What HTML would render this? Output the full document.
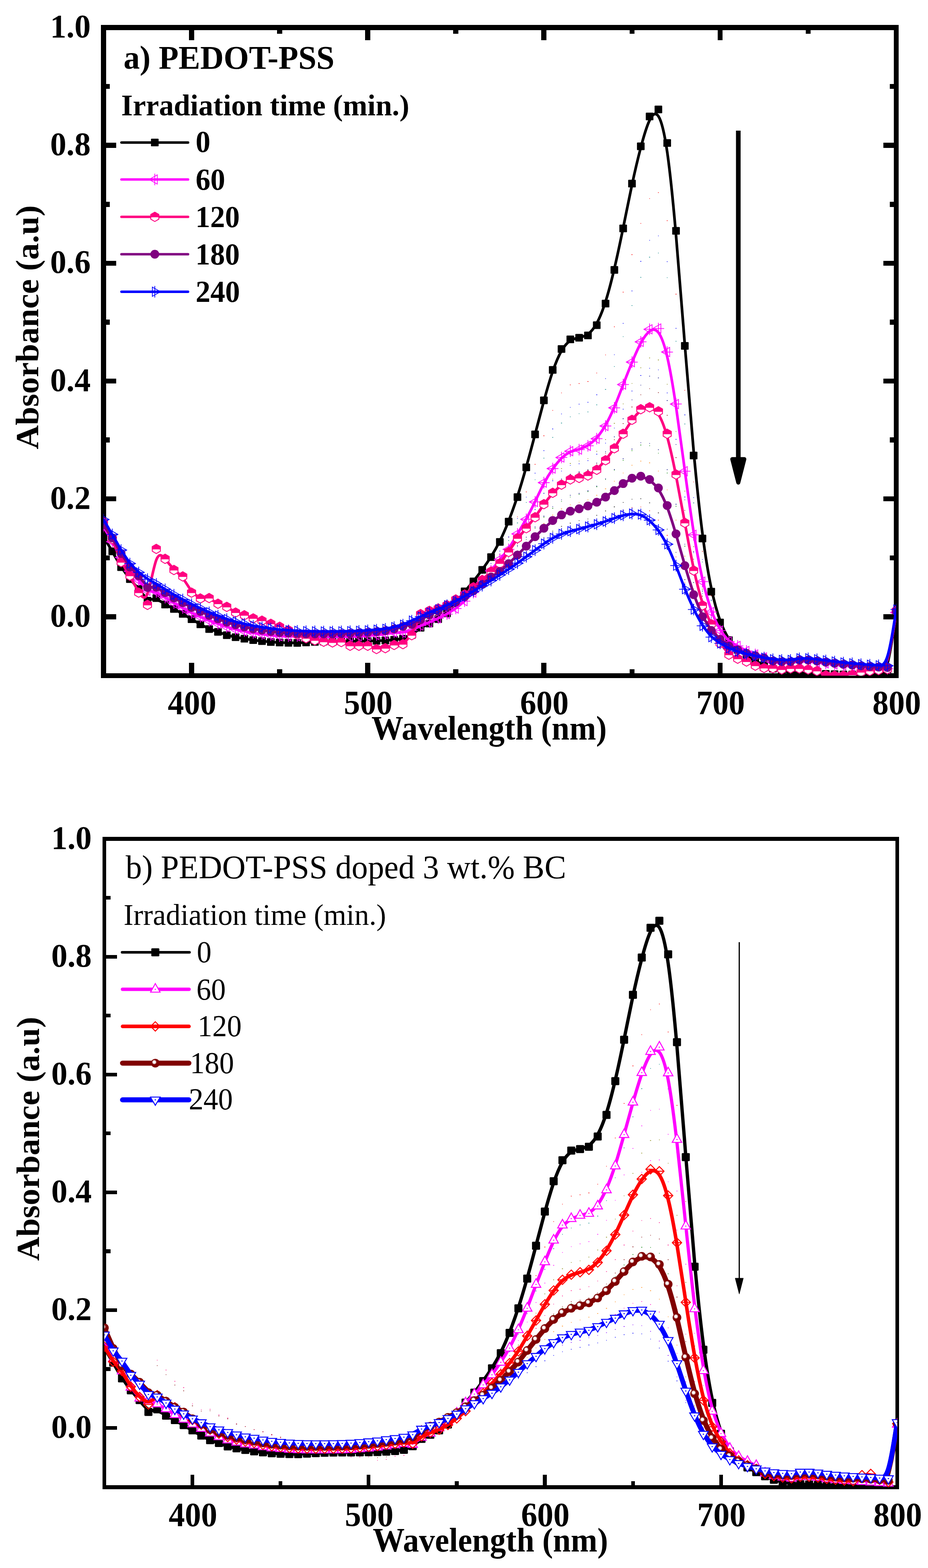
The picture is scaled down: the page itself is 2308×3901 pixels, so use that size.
<!DOCTYPE html>
<html><head><meta charset="utf-8"><title>UV-Vis absorbance spectra</title>
<style>html,body{margin:0;padding:0;background:#fff}svg{display:block}text{font-family:'Liberation Serif', 'Times New Roman', Times, serif;fill:#000}</style>
</head><body>
<svg width="2308" height="3901" viewBox="0 0 2308 3901">
<rect width="2308" height="3901" fill="#fff"/>
<defs>
<radialGradient id="sph" cx="0.5" cy="0.5" r="0.5"><stop offset="0" stop-color="#fff"/><stop offset="0.45" stop-color="#fff"/><stop offset="0.75" stop-color="#d9b3b3"/><stop offset="1" stop-color="#a04040"/></radialGradient>
<rect id="a0" x="-9.5" y="-9.5" width="19" height="19" rx="1.5" fill="#000"/>
<g id="a1" fill="none" stroke="#f0f" stroke-width="1.8"><path d="M-14.1 0L6.15 -11.5V11.5Z"/><path d="M0 -14.4V14.4M-14.3 0H14.3"/></g>
<g id="a2"><path d="M0 -11.6L10 -5.8V5.8L0 11.6L-10 5.8V-5.8Z" fill="#fff" stroke="#ff0080" stroke-width="2.2"/><path d="M0 -11.6L10 -5.8V0H-10V-5.8Z" fill="#ff0080" stroke="#ff0080" stroke-width="2.2"/></g>
<circle id="a3" r="11" fill="#800080"/>
<g id="a4" fill="none" stroke="#00f" stroke-width="1.8"><path d="M14.1 0L-6.15 -11.5V11.5Z"/><path d="M0 -14.4V14.4M-14.3 0H14.3"/></g>
<rect id="b0" x="-10" y="-10" width="20" height="20" rx="2" fill="#000"/>
<g id="b1"><path d="M0 -14.3L11.8 7.1H-11.8Z" fill="#fff" stroke="#f0f" stroke-width="2.4"/><rect x="-1.5" y="-1.2" width="3" height="2.4" fill="#f0f"/></g>
<g id="b2" fill="none" stroke="#f00" stroke-width="2.4"><path d="M0 -11.6L11.6 0L0 11.6L-11.6 0Z"/><path d="M-11.6 0H11.6"/></g>
<g id="b3"><circle r="10.8" fill="#800000"/><circle cx="-2.6" cy="-2.6" r="5.6" fill="url(#sph)"/></g>
<g id="b4"><path d="M0 13.6L12.2 -7H-12.2Z" fill="#fff" stroke="#00f" stroke-width="2.3"/><rect x="-1.6" y="-1.2" width="3.2" height="2.4" fill="#00f"/></g>
</defs>
<clipPath id="clipA"><rect x="257.3" y="68.5" width="1971.7" height="1612.5"/></clipPath>
<clipPath id="clipB"><rect x="259.6" y="2087" width="1971.8" height="1613"/></clipPath>
<path d="M257.3 1681v-15.7M257.3 68.5v15.7M476.38 1681v-31.7M476.38 68.5v31.7M695.46 1681v-15.7M695.46 68.5v15.7M914.53 1681v-31.7M914.53 68.5v31.7M1133.61 1681v-15.7M1133.61 68.5v15.7M1352.69 1681v-31.7M1352.69 68.5v31.7M1571.77 1681v-15.7M1571.77 68.5v15.7M1790.84 1681v-31.7M1790.84 68.5v31.7M2009.92 1681v-15.7M2009.92 68.5v15.7M2229 1681v-31.7M2229 68.5v31.7M257.3 1681h15.7M2229 1681h-15.7M257.3 1534.41h31.7M2229 1534.41h-31.7M257.3 1387.82h15.7M2229 1387.82h-15.7M257.3 1241.23h31.7M2229 1241.23h-31.7M257.3 1094.64h15.7M2229 1094.64h-15.7M257.3 948.05h31.7M2229 948.05h-31.7M257.3 801.45h15.7M2229 801.45h-15.7M257.3 654.86h31.7M2229 654.86h-31.7M257.3 508.27h15.7M2229 508.27h-15.7M257.3 361.68h31.7M2229 361.68h-31.7M257.3 215.09h15.7M2229 215.09h-15.7M257.3 68.5h31.7M2229 68.5h-31.7" fill="none" stroke="#000" stroke-width="12.5" shape-rendering="crispEdges"/>
<rect x="257.3" y="68.5" width="1971.7" height="1612.5" fill="none" stroke="#000" stroke-width="12.5" shape-rendering="crispEdges"/>
<g clip-path="url(#clipA)" fill="none">
<path d="M1176.73 1460.88h1.4M1198.33 1436.98h2M1220.14 1410.27h2.2M1241.85 1378.77h2.6M1264.26 1336.49h1.6M1286.27 1285.63h1.4M1307.87 1223.74h2M1329.68 1155.24h2.2M1351.39 1084.28h2.6M1373.8 1021.05h1.6M1395.8 977.42h1.4M1417.41 957.44h2M1439.22 954.13h2.2M1460.93 949.36h2.6M1483.34 928.03h1.6M1505.34 883.06h1.4M1526.95 812.96h2M1548.76 726.8h2.2M1570.47 633.42h2.6M1592.87 555.85h1.6M1614.88 493.96h1.4M1636.49 479.25h2M1658.3 549.11h2.2M1680.01 731.71h2.6M1702.41 970.92h1.6M1724.42 1198.99h1.4M1746.03 1371.66h2M1767.84 1482.2h2.2M1789.54 1546.42h2.6" stroke="#f00" stroke-width="1.5"/>
<path d="M1176.63 1450.12h1.6M1198.63 1427.25h1.4M1220.24 1402.04h2M1242.05 1371.11h2.2M1263.76 1335.78h2.6M1286.17 1290.04h1.6M1308.17 1236.68h1.4M1329.78 1177.31h2M1351.59 1121.17h2.2M1373.3 1067.22h2.6M1395.7 1029.7h1.6M1417.71 1013.57h1.4M1439.32 1005.51h2M1461.13 1000.67h2.2M1482.84 982.35h2.6M1505.24 942.04h1.6M1527.25 882.52h1.4M1548.86 804.53h2M1570.67 723.76h2.2M1592.37 650.32h2.6M1614.78 597.69h1.6M1636.79 586.85h1.4M1658.4 651.05h2M1680.21 816.7h2.2M1701.91 1032.19h2.6M1724.32 1238h1.6M1746.33 1391.92h1.4M1767.94 1492.92h2M1789.74 1548.48h2.2" stroke="#00f" stroke-width="1.5"/>
<path d="M1176.13 1453.91h2.6M1198.53 1432.07h1.6M1220.54 1407.99h1.4M1242.15 1378.46h2M1263.96 1344.72h2.2M1285.67 1301.04h2.6M1308.07 1250.08h1.6M1330.08 1193.38h1.4M1351.69 1139.77h2M1373.5 1088.25h2.2M1395.2 1052.41h2.6M1417.61 1037.01h1.6M1439.62 1029.31h1.4M1461.23 1024.69h2M1483.04 1007.19h2.2M1504.74 968.69h2.6M1527.15 911.85h1.6M1549.16 837.38h1.4M1570.77 760.24h2M1592.57 690.1h2.2M1614.28 639.85h2.6M1636.69 629.49h1.6M1658.7 690.8h1.4M1680.31 849h2M1702.11 1054.79h2.2M1723.82 1251.34h2.6M1746.23 1398.33h1.6M1768.24 1494.79h1.4M1789.84 1547.85h2" stroke="#008080" stroke-width="1.5"/>
<path d="M1176.33 1471.37h2.2M1198.03 1447.92h2.6M1220.44 1422.71h1.6M1242.45 1400.42h1.4M1264.06 1373.01h2M1285.87 1343.84h2.2M1307.57 1305.43h2.6M1329.98 1267.03h1.6M1351.99 1226.71h1.4M1373.6 1192.27h2M1395.4 1165.73h2.2M1417.11 1152.98h2.6M1439.52 1146.97h1.6M1461.53 1140.96h1.4M1483.14 1122.78h2M1504.94 1093.46h2.2M1526.65 1053.15h2.6M1549.06 1004.63h1.6M1571.07 954.06h1.4M1592.67 914.92h2M1614.48 890.58h2.2M1636.19 895.57h2.6M1658.6 956.11h1.6M1680.61 1073.38h1.4M1702.21 1221.73h2M1724.02 1359.97h2.2M1745.73 1465.66h2.6M1768.14 1531.33h1.6M1790.14 1568.86h1.4" stroke="#808000" stroke-width="1.5"/>
<path d="M1176.43 1475.79h2M1198.23 1453.97h2.2M1219.94 1430.53h2.6M1242.35 1409.8h1.6M1264.36 1384.31h1.4M1285.97 1357.18h2M1307.77 1321.46h2.2M1329.48 1285.74h2.6M1351.89 1248.25h1.6M1373.9 1216.22h1.4M1395.5 1191.54h2M1417.31 1179.68h2.2M1439.02 1174.09h2.6M1461.43 1168.5h1.6M1483.44 1151.6h1.4M1505.04 1124.33h2M1526.85 1086.84h2.2M1548.56 1041.71h2.6M1570.97 994.68h1.6M1592.97 958.28h1.4M1614.58 935.65h2M1636.39 940.28h2.2M1658.1 996.59h2.6M1680.51 1105.65h1.6M1702.51 1243.62h1.4M1724.12 1372.18h2M1745.93 1470.47h2.2M1767.64 1531.55h2.6M1790.04 1566.45h1.6" stroke="#000080" stroke-width="1.5"/>
<path d="M1176.73 1469.58h1.4M1198.33 1449.61h2M1220.14 1427.17h2.2M1241.85 1405.86h2.6M1264.26 1380.55h1.6M1286.27 1353.08h1.4M1307.87 1318.11h2M1329.68 1283.55h2.2M1351.39 1247.85h2.6M1373.8 1217.51h1.6M1395.8 1194.36h1.4M1417.41 1182.22h2M1439.22 1176.06h2.2M1460.93 1169.74h2.6M1483.34 1153.67h1.6M1505.34 1128.25h1.4M1526.95 1093.99h2M1548.76 1053.83h2.2M1570.47 1012.6h2.6M1592.87 982.23h1.6M1614.88 966.98h1.4M1636.49 976.73h2M1658.3 1033.32h2.2M1680.01 1138.54h2.6M1702.41 1269.65h1.6M1724.42 1391.16h1.4M1746.03 1483.2h2M1767.84 1541.34h2.2M1789.54 1575.32h2.6" stroke="#800000" stroke-width="1.5"/>
<path d="M1176.63 1466.24h1.6M1198.63 1452.76h1.4M1220.24 1435.46h2M1242.05 1415.96h2.2M1263.76 1394.56h2.6M1286.17 1370.23h1.6M1308.17 1341.64h1.4M1329.78 1314.23h2M1351.59 1287.11h2.2M1373.3 1264.39h2.6M1395.7 1247.53h1.6M1417.71 1236.54h1.4M1439.32 1230.09h2M1461.13 1223.2h2.2M1482.84 1211.03h2.6M1505.24 1192.85h1.6M1527.25 1169.84h1.4M1548.86 1145.21h2M1570.67 1121.32h2.2M1592.37 1107.24h2.6M1614.78 1108.86h1.6M1636.79 1127.47h1.4M1658.4 1176.73h2M1680.21 1259.55h2.2M1701.91 1358.65h2.6M1724.32 1449.09h1.6M1746.33 1515.79h1.4M1767.94 1559.92h2M1789.74 1587.33h2.2" stroke="#008000" stroke-width="1.5"/>
<path d="M1176.13 1468.44h2.6M1198.53 1455.26h1.6M1220.54 1439.2h1.4M1242.15 1420.76h2M1263.96 1400.63h2.2M1285.67 1377.84h2.6M1308.07 1351.4h1.6M1330.08 1326.76h1.4M1351.69 1302.06h2M1373.5 1281.54h2.2M1395.2 1266.13h2.6M1417.61 1256.02h1.6M1439.62 1249.66h1.4M1461.23 1243.65h2M1483.04 1232.31h2.2M1504.74 1216.34h2.6M1527.15 1197.19h1.6M1549.16 1176.65h1.4M1570.77 1157.51h2M1592.57 1147.31h2.2M1614.28 1151.47h2.6M1636.69 1172.02h1.6M1658.7 1218.64h1.4M1680.31 1293.94h2M1702.11 1383.76h2.2M1723.82 1465.58h2.6M1746.23 1526.04h1.6M1768.24 1566.2h1.4M1789.84 1591.02h2" stroke="#ff8000" stroke-width="1.5"/>
<path d="M1176.33 1473.57h2.2M1198.03 1461.11h2.6M1220.44 1447.92h1.6M1242.45 1431.94h1.4M1264.06 1414.79h2M1285.87 1395.59h2.2M1307.57 1374.19h2.6M1329.98 1356.01h1.6M1351.99 1336.95h1.4M1373.6 1321.56h2M1395.4 1309.54h2.2M1417.11 1301.48h2.6M1439.52 1295.32h1.6M1461.53 1291.36h1.4M1483.14 1281.98h2M1504.94 1271.13h2.2M1526.65 1261.02h2.6M1549.06 1250.02h1.6M1571.07 1241.96h1.4M1592.67 1240.79h2M1614.48 1250.9h2.2M1636.19 1275.97h2.6M1658.6 1316.43h1.6M1680.61 1374.19h1.4M1702.21 1442.35h2M1724.02 1504.06h2.2M1745.73 1549.95h2.6M1768.14 1580.88h1.6M1790.14 1599.64h1.4" stroke="#000" stroke-width="1.5"/>
<path d="M1176.43 1477.83h2M1198.23 1466.24h2.2M1219.94 1453.97h2.6M1242.35 1439.11h1.6M1264.36 1423.16h1.4M1285.97 1405.31h2M1307.77 1385.4h2.2M1329.48 1368.5h2.6M1351.89 1350.77h1.6M1373.9 1336.46h1.4M1395.5 1325.28h2M1417.31 1317.78h2.2M1439.02 1312.06h2.6M1461.43 1308.37h1.6M1483.44 1299.65h1.4M1505.04 1289.56h2M1526.85 1280.15h2.2M1548.56 1269.93h2.6M1570.97 1262.43h1.6M1592.97 1261.34h1.4M1614.58 1270.75h2M1636.39 1294.06h2.2M1658.1 1331.69h2.6M1680.51 1385.4h1.6M1702.51 1448.79h1.4M1724.12 1506.19h2M1745.93 1548.86h2.2M1767.64 1577.63h2.6M1790.04 1595.08h1.6" stroke="#f00" stroke-width="1.5"/>
<path d="M1176.73 1465.51h1.4M1198.33 1448.36h2M1220.14 1428.86h2.2M1241.85 1411.57h2.6M1264.26 1387.89h1.6M1286.27 1360.11h1.4M1307.87 1336.51h2M1329.68 1311h2.2M1351.39 1284.32h2.6M1373.8 1260.5h1.6M1395.8 1243.5h1.4M1417.41 1232.29h2M1439.22 1227.45h2.2M1460.93 1220.92h2.6M1483.34 1209.2h1.6M1505.34 1190.95h1.4M1526.95 1167.93h2M1548.76 1141.18h2.2M1570.47 1117.14h2.6M1592.87 1101.45h1.6M1614.88 1103.14h1.4M1636.49 1118.68h2M1658.3 1168.44h2.2M1680.01 1254.42h2.6M1702.41 1354.03h1.6M1724.42 1449.46h1.4M1746.03 1520.26h2M1767.84 1560.65h2.2M1789.54 1595.46h2.6" stroke="#000080" stroke-width="1.5"/>
<path d="M1176.63 1467.71h1.6M1198.63 1446.16h1.4M1220.24 1421.09h2M1242.05 1396.76h2.2M1263.76 1370.08h2.6M1286.17 1333.8h1.6M1308.17 1303.09h1.4M1329.78 1267.76h2M1351.59 1227.59h2.2M1373.3 1195.93h2.6M1395.7 1172.04h1.6M1417.71 1157.67h1.4M1439.32 1153.86h2M1461.13 1146.09h2.2M1482.84 1130.11h2.6M1505.24 1102.48h1.6M1527.25 1065.02h1.4M1548.86 1017.97h2M1570.67 972.67h2.2M1592.37 934.27h2.6M1614.78 916.24h1.6M1636.79 920.34h1.4M1658.4 977.51h2M1680.21 1092.88h2.2M1701.91 1236.61h2.6M1724.32 1374.92h1.6M1746.33 1476.65h1.4M1767.94 1537.71h2M1789.74 1584.62h2.2" stroke="#00f" stroke-width="1.5"/>
</g>
<g clip-path="url(#clipA)">
<path d="M257.3 1335.05C257.3 1335.05 257.3 1335.05 260.95 1341.15C264.6 1347.26 271.91 1359.48 279.21 1372.13C286.51 1384.79 293.81 1397.88 301.12 1409.39C308.42 1420.9 315.72 1430.82 323.02 1439.81C330.33 1448.8 337.63 1456.86 344.93 1465.83C352.23 1474.8 359.54 1484.67 366.84 1488.53C374.14 1492.39 381.44 1490.24 388.75 1491.8C396.05 1493.36 403.35 1498.64 410.65 1503.11C417.96 1507.58 425.26 1511.25 432.56 1515.16C439.86 1519.07 447.17 1523.22 454.47 1527.47C461.77 1531.72 469.08 1536.07 476.38 1540.39C483.68 1544.72 490.98 1549.02 498.29 1553.1C505.59 1557.18 512.89 1561.04 520.19 1564.14C527.5 1567.25 534.8 1569.59 542.1 1572.16C549.4 1574.72 556.71 1577.51 564.01 1579.71C571.31 1581.9 578.61 1583.52 585.92 1584.98C593.22 1586.45 600.52 1587.77 607.82 1588.99C615.13 1590.21 622.43 1591.34 629.73 1592.31C637.03 1593.29 644.34 1594.12 651.64 1594.93C658.94 1595.73 666.25 1596.51 673.55 1597.13C680.85 1597.74 688.15 1598.18 695.46 1598.49C702.76 1598.81 710.06 1599.01 717.36 1599.15C724.67 1599.3 731.97 1599.4 739.27 1599.25C746.57 1599.1 753.88 1598.71 761.18 1598.3C768.48 1597.88 775.78 1597.44 783.09 1597.08C790.39 1596.71 797.69 1596.42 804.99 1596.2C812.3 1595.98 819.6 1595.83 826.9 1595.71C834.2 1595.59 841.51 1595.49 848.81 1595.42C856.11 1595.34 863.42 1595.29 870.72 1595.24C878.02 1595.2 885.32 1595.15 892.63 1595.07C899.93 1595 907.23 1594.9 914.53 1594.76C921.84 1594.61 929.14 1594.41 936.44 1594.17C943.74 1593.92 951.05 1593.63 958.35 1593.24C965.65 1592.85 972.95 1592.36 980.26 1591.63C987.56 1590.9 994.86 1589.92 1002.16 1587.91C1009.47 1585.91 1016.77 1582.88 1024.07 1578.34C1031.37 1573.79 1038.68 1567.73 1045.98 1562.97C1053.28 1558.21 1060.59 1554.74 1067.89 1551.17C1075.19 1547.6 1082.49 1543.94 1089.8 1539.71C1097.1 1535.48 1104.4 1530.7 1111.7 1524.1C1119.01 1517.5 1126.31 1509.1 1133.61 1500.01C1140.91 1490.92 1148.22 1481.15 1155.52 1472.11C1162.82 1463.07 1170.12 1454.76 1177.43 1445.84C1184.73 1436.93 1192.03 1427.4 1199.33 1417.31C1206.64 1407.22 1213.94 1396.56 1221.24 1384.96C1228.54 1373.35 1235.85 1360.8 1243.15 1346.09C1250.45 1331.38 1257.76 1314.52 1265.06 1295.95C1272.36 1277.39 1279.66 1257.11 1286.97 1234.63C1294.27 1212.15 1301.57 1187.48 1308.87 1161.48C1316.18 1135.49 1323.48 1108.17 1330.78 1080.37C1338.08 1052.56 1345.39 1024.27 1352.69 997.52C1359.99 970.77 1367.29 945.55 1374.6 924.25C1381.9 902.94 1389.2 885.55 1396.5 872.87C1403.81 860.19 1411.11 852.22 1418.41 847.58C1425.71 842.94 1433.02 841.62 1440.32 840.01C1447.62 838.4 1454.93 836.49 1462.23 831.29C1469.53 826.08 1476.83 817.58 1484.14 804.36C1491.44 791.14 1498.74 773.21 1506.04 750.27C1513.35 727.33 1520.65 699.38 1527.95 668.23C1535.25 637.08 1542.56 602.73 1549.86 566.93C1557.16 531.14 1564.46 493.91 1571.77 459.82C1579.07 425.74 1586.37 394.81 1593.67 367.01C1600.98 339.2 1608.28 314.53 1615.58 299.26C1622.88 283.99 1630.19 278.12 1637.49 289.12C1644.79 300.11 1652.1 327.97 1659.4 378.3C1666.7 428.62 1674 501.43 1681.31 585.53C1688.61 669.62 1695.91 765 1703.21 858.16C1710.52 951.32 1717.82 1042.25 1725.12 1122.15C1732.42 1202.04 1739.73 1270.89 1747.03 1327.35C1754.33 1383.81 1761.63 1427.89 1768.94 1462.73C1776.24 1497.57 1783.54 1523.17 1790.84 1543.28C1798.15 1563.39 1805.45 1578 1812.75 1589.28C1820.05 1600.57 1827.36 1608.54 1834.66 1615.21C1841.96 1621.88 1849.27 1627.25 1856.57 1631.89C1863.87 1636.53 1871.17 1640.44 1878.48 1644.11C1885.78 1647.77 1893.08 1651.19 1900.38 1654.37C1907.69 1657.55 1914.99 1660.48 1922.29 1662.92C1929.59 1665.36 1936.9 1667.32 1944.2 1668.91C1951.5 1670.49 1958.8 1671.72 1966.11 1672.57C1973.41 1673.43 1980.71 1673.91 1988.01 1674.28C1995.32 1674.65 2002.62 1674.89 2009.92 1675.14C2017.22 1675.38 2024.53 1675.62 2031.83 1675.87C2039.13 1676.11 2046.44 1676.36 2053.74 1676.6C2061.04 1676.85 2068.34 1677.09 2075.65 1677.34C2082.95 1677.58 2090.25 1677.82 2097.55 1677.95C2104.86 1678.07 2112.16 1678.07 2119.46 1677.95C2126.76 1677.82 2134.07 1677.58 2141.37 1677.34C2148.67 1677.09 2155.97 1676.85 2163.28 1676.72C2170.58 1676.6 2177.88 1676.6 2185.18 1676.6C2192.49 1676.6 2199.79 1676.6 2207.09 1650.95C2214.39 1625.3 2221.7 1573.99 2225.35 1548.34C2229 1522.68 2229 1522.68 2229 1522.68" fill="none" stroke="#000" stroke-width="6.7" stroke-linejoin="round" stroke-linecap="round"/>
<use href="#a0" x="257.3" y="1335.05"/><use href="#a0" x="279.21" y="1371.69"/><use href="#a0" x="301.12" y="1410.98"/><use href="#a0" x="323.02" y="1440.74"/><use href="#a0" x="344.93" y="1464.92"/><use href="#a0" x="366.84" y="1494.54"/><use href="#a0" x="388.75" y="1488.09"/><use href="#a0" x="410.65" y="1503.92"/><use href="#a0" x="432.56" y="1514.91"/><use href="#a0" x="454.47" y="1527.37"/><use href="#a0" x="476.38" y="1540.42"/><use href="#a0" x="498.29" y="1553.32"/><use href="#a0" x="520.19" y="1564.9"/><use href="#a0" x="542.1" y="1571.94"/><use href="#a0" x="564.01" y="1580.29"/><use href="#a0" x="585.92" y="1585.13"/><use href="#a0" x="607.82" y="1589.09"/><use href="#a0" x="629.73" y="1592.46"/><use href="#a0" x="651.64" y="1594.95"/><use href="#a0" x="673.55" y="1597.3"/><use href="#a0" x="695.46" y="1598.62"/><use href="#a0" x="717.36" y="1599.2"/><use href="#a0" x="739.27" y="1599.5"/><use href="#a0" x="761.18" y="1598.32"/><use href="#a0" x="783.09" y="1597"/><use href="#a0" x="804.99" y="1596.12"/><use href="#a0" x="826.9" y="1595.68"/><use href="#a0" x="848.81" y="1595.39"/><use href="#a0" x="870.72" y="1595.24"/><use href="#a0" x="892.63" y="1595.1"/><use href="#a0" x="914.53" y="1594.8"/><use href="#a0" x="936.44" y="1594.22"/><use href="#a0" x="958.35" y="1593.34"/><use href="#a0" x="980.26" y="1591.87"/><use href="#a0" x="1002.16" y="1588.94"/><use href="#a0" x="1024.07" y="1579.85"/><use href="#a0" x="1045.98" y="1561.67"/><use href="#a0" x="1067.89" y="1551.27"/><use href="#a0" x="1089.8" y="1540.27"/><use href="#a0" x="1111.7" y="1525.91"/><use href="#a0" x="1133.61" y="1500.69"/><use href="#a0" x="1155.52" y="1471.37"/><use href="#a0" x="1177.43" y="1446.45"/><use href="#a0" x="1199.33" y="1417.87"/><use href="#a0" x="1221.24" y="1385.91"/><use href="#a0" x="1243.15" y="1348.24"/><use href="#a0" x="1265.06" y="1297.66"/><use href="#a0" x="1286.97" y="1236.83"/><use href="#a0" x="1308.87" y="1162.8"/><use href="#a0" x="1330.78" y="1080.86"/><use href="#a0" x="1352.69" y="995.98"/><use href="#a0" x="1374.6" y="920.34"/><use href="#a0" x="1396.5" y="868.15"/><use href="#a0" x="1418.41" y="844.26"/><use href="#a0" x="1440.32" y="840.3"/><use href="#a0" x="1462.23" y="834.58"/><use href="#a0" x="1484.14" y="809.08"/><use href="#a0" x="1506.04" y="755.28"/><use href="#a0" x="1527.95" y="671.43"/><use href="#a0" x="1549.86" y="568.37"/><use href="#a0" x="1571.77" y="456.67"/><use href="#a0" x="1593.67" y="363.88"/><use href="#a0" x="1615.58" y="289.85"/><use href="#a0" x="1637.49" y="272.26"/><use href="#a0" x="1659.4" y="355.82"/><use href="#a0" x="1681.31" y="574.24"/><use href="#a0" x="1703.21" y="860.38"/><use href="#a0" x="1725.12" y="1133.19"/><use href="#a0" x="1747.03" y="1339.74"/><use href="#a0" x="1768.94" y="1471.96"/><use href="#a0" x="1790.84" y="1548.77"/><use href="#a0" x="1812.75" y="1592.61"/><use href="#a0" x="1834.66" y="1616.5"/><use href="#a0" x="1856.57" y="1632.62"/><use href="#a0" x="1878.48" y="1644.35"/><use href="#a0" x="1900.38" y="1654.61"/><use href="#a0" x="1922.29" y="1663.41"/><use href="#a0" x="1944.2" y="1669.27"/><use href="#a0" x="1966.11" y="1672.94"/><use href="#a0" x="1988.01" y="1674.4"/><use href="#a0" x="2009.92" y="1675.14"/><use href="#a0" x="2031.83" y="1675.87"/><use href="#a0" x="2053.74" y="1676.6"/><use href="#a0" x="2075.65" y="1677.34"/><use href="#a0" x="2097.55" y="1678.07"/><use href="#a0" x="2119.46" y="1678.07"/><use href="#a0" x="2141.37" y="1677.34"/><use href="#a0" x="2163.28" y="1676.6"/><use href="#a0" x="2185.18" y="1676.6"/><use href="#a0" x="2207.09" y="1676.6"/><use href="#a0" x="2229" y="1522.68"/>
</g>
<g clip-path="url(#clipA)">
<path d="M257.3 1310.12C257.3 1310.12 257.3 1310.12 260.95 1316.38C264.6 1322.63 271.91 1335.14 279.21 1347.95C286.51 1360.75 293.81 1373.84 301.12 1386.06C308.42 1398.27 315.72 1409.61 323.02 1419.02C330.33 1428.42 337.63 1435.9 344.93 1444.06C352.23 1452.22 359.54 1461.06 366.84 1465.98C374.14 1470.89 381.44 1471.86 388.75 1474.67C396.05 1477.48 403.35 1482.12 410.65 1486.77C417.96 1491.41 425.26 1496.05 432.56 1500.4C439.86 1504.75 447.17 1508.8 454.47 1512.88C461.77 1516.96 469.08 1521.07 476.38 1524.71C483.68 1528.35 490.98 1531.53 498.29 1534.7C505.59 1537.88 512.89 1541.05 520.19 1543.94C527.5 1546.82 534.8 1549.41 542.1 1552.02C549.4 1554.64 556.71 1557.28 564.01 1559.6C571.31 1561.92 578.61 1563.92 585.92 1565.68C593.22 1567.44 600.52 1568.96 607.82 1570.45C615.13 1571.94 622.43 1573.4 629.73 1574.6C637.03 1575.8 644.34 1576.72 651.64 1577.65C658.94 1578.58 666.25 1579.51 673.55 1580.34C680.85 1581.17 688.15 1581.9 695.46 1582.3C702.76 1582.69 710.06 1582.74 717.36 1582.74C724.67 1582.74 731.97 1582.69 739.27 1582.81C746.57 1582.93 753.88 1583.22 761.18 1583.44C768.48 1583.66 775.78 1583.81 783.09 1583.93C790.39 1584.05 797.69 1584.15 804.99 1584.2C812.3 1584.25 819.6 1584.25 826.9 1584.2C834.2 1584.15 841.51 1584.05 848.81 1583.93C856.11 1583.81 863.42 1583.66 870.72 1583.47C878.02 1583.27 885.32 1583.03 892.63 1582.69C899.93 1582.34 907.23 1581.9 914.53 1581.42C921.84 1580.93 929.14 1580.39 936.44 1579.75C943.74 1579.12 951.05 1578.39 958.35 1577.31C965.65 1576.24 972.95 1574.82 980.26 1574.21C987.56 1573.6 994.86 1573.79 1002.16 1573.04C1009.47 1572.28 1016.77 1570.57 1024.07 1567.61C1031.37 1564.66 1038.68 1560.45 1045.98 1557.01C1053.28 1553.56 1060.59 1550.88 1067.89 1547.85C1075.19 1544.82 1082.49 1541.45 1089.8 1538.05C1097.1 1534.65 1104.4 1531.23 1111.7 1527.2C1119.01 1523.17 1126.31 1518.53 1133.61 1513.15C1140.91 1507.78 1148.22 1501.67 1155.52 1495.07C1162.82 1488.48 1170.12 1481.39 1177.43 1473.7C1184.73 1466 1192.03 1457.69 1199.33 1448.65C1206.64 1439.61 1213.94 1429.84 1221.24 1420.24C1228.54 1410.64 1235.85 1401.21 1243.15 1392.31C1250.45 1383.42 1257.76 1375.06 1265.06 1364.49C1272.36 1353.91 1279.66 1341.1 1286.97 1328.64C1294.27 1316.18 1301.57 1304.07 1308.87 1290.8C1316.18 1277.53 1323.48 1263.12 1330.78 1247.92C1338.08 1232.72 1345.39 1216.75 1352.69 1202.92C1359.99 1189.09 1367.29 1177.41 1374.6 1166.98C1381.9 1156.55 1389.2 1147.36 1396.5 1140.15C1403.81 1132.95 1411.11 1127.72 1418.41 1124.44C1425.71 1121.17 1433.02 1119.85 1440.32 1117.63C1447.62 1115.4 1454.93 1112.28 1462.23 1107.76C1469.53 1103.24 1476.83 1097.32 1484.14 1089.09C1491.44 1080.86 1498.74 1070.3 1506.04 1057.5C1513.35 1044.7 1520.65 1029.65 1527.95 1012.47C1535.25 995.3 1542.56 976 1549.86 957.04C1557.16 938.08 1564.46 919.46 1571.77 901.75C1579.07 884.03 1586.37 867.22 1593.67 853.62C1600.98 840.01 1608.28 829.6 1615.58 824.08C1622.88 818.56 1630.19 817.92 1637.49 827.35C1644.79 836.78 1652.1 856.28 1659.4 887.6C1666.7 918.92 1674 962.07 1681.31 1011.49C1688.61 1060.92 1695.91 1116.62 1703.21 1170.84C1710.52 1225.05 1717.82 1277.78 1725.12 1323.56C1732.42 1369.35 1739.73 1408.19 1747.03 1440.22C1754.33 1472.25 1761.63 1497.47 1768.94 1517.77C1776.24 1538.07 1783.54 1553.47 1790.84 1565.68C1798.15 1577.9 1805.45 1586.94 1812.75 1593.29C1820.05 1599.64 1827.36 1603.31 1834.66 1607.22C1841.96 1611.12 1849.27 1615.28 1856.57 1618.82C1863.87 1622.36 1871.17 1625.3 1878.48 1627.98C1885.78 1630.67 1893.08 1633.11 1900.38 1636.34C1907.69 1639.56 1914.99 1643.57 1922.29 1645.84C1929.59 1648.11 1936.9 1648.65 1944.2 1648.92C1951.5 1649.19 1958.8 1649.19 1966.11 1648.53C1973.41 1647.87 1980.71 1646.55 1988.01 1645.89C1995.32 1645.23 2002.62 1645.23 2009.92 1645.62C2017.22 1646.01 2024.53 1646.8 2031.83 1647.65C2039.13 1648.51 2046.44 1649.43 2053.74 1650.36C2061.04 1651.29 2068.34 1652.22 2075.65 1653.1C2082.95 1653.98 2090.25 1654.81 2097.55 1655.54C2104.86 1656.27 2112.16 1656.91 2119.46 1657.59C2126.76 1658.28 2134.07 1659.01 2141.37 1659.62C2148.67 1660.23 2155.97 1660.72 2163.28 1661.19C2170.58 1661.65 2177.88 1662.09 2185.18 1662.51C2192.49 1662.92 2199.79 1663.31 2207.09 1640.17C2214.39 1617.04 2221.7 1570.37 2225.35 1547.04C2229 1523.71 2229 1523.71 2229 1523.71" fill="none" stroke="#f0f" stroke-width="6.6" stroke-linejoin="round" stroke-linecap="round"/>
<use href="#a1" x="257.3" y="1310.12"/><use href="#a1" x="279.21" y="1347.65"/><use href="#a1" x="301.12" y="1386.94"/><use href="#a1" x="323.02" y="1420.95"/><use href="#a1" x="344.93" y="1443.38"/><use href="#a1" x="366.84" y="1469.91"/><use href="#a1" x="388.75" y="1472.84"/><use href="#a1" x="410.65" y="1486.77"/><use href="#a1" x="432.56" y="1500.69"/><use href="#a1" x="454.47" y="1512.86"/><use href="#a1" x="476.38" y="1525.17"/><use href="#a1" x="498.29" y="1534.7"/><use href="#a1" x="520.19" y="1544.23"/><use href="#a1" x="542.1" y="1552"/><use href="#a1" x="564.01" y="1559.92"/><use href="#a1" x="585.92" y="1565.93"/><use href="#a1" x="607.82" y="1570.47"/><use href="#a1" x="629.73" y="1574.87"/><use href="#a1" x="651.64" y="1577.65"/><use href="#a1" x="673.55" y="1580.44"/><use href="#a1" x="695.46" y="1582.64"/><use href="#a1" x="717.36" y="1582.78"/><use href="#a1" x="739.27" y="1582.64"/><use href="#a1" x="761.18" y="1583.52"/><use href="#a1" x="783.09" y="1583.96"/><use href="#a1" x="804.99" y="1584.25"/><use href="#a1" x="826.9" y="1584.25"/><use href="#a1" x="848.81" y="1583.96"/><use href="#a1" x="870.72" y="1583.52"/><use href="#a1" x="892.63" y="1582.78"/><use href="#a1" x="914.53" y="1581.46"/><use href="#a1" x="936.44" y="1579.85"/><use href="#a1" x="958.35" y="1577.65"/><use href="#a1" x="980.26" y="1573.4"/><use href="#a1" x="1002.16" y="1573.99"/><use href="#a1" x="1024.07" y="1568.86"/><use href="#a1" x="1045.98" y="1556.25"/><use href="#a1" x="1067.89" y="1548.19"/><use href="#a1" x="1089.8" y="1538.07"/><use href="#a1" x="1111.7" y="1527.81"/><use href="#a1" x="1133.61" y="1513.89"/><use href="#a1" x="1155.52" y="1495.56"/><use href="#a1" x="1177.43" y="1474.31"/><use href="#a1" x="1199.33" y="1449.39"/><use href="#a1" x="1221.24" y="1420.07"/><use href="#a1" x="1243.15" y="1391.78"/><use href="#a1" x="1265.06" y="1366.71"/><use href="#a1" x="1286.97" y="1328.3"/><use href="#a1" x="1308.87" y="1291.95"/><use href="#a1" x="1330.78" y="1248.7"/><use href="#a1" x="1352.69" y="1200.77"/><use href="#a1" x="1374.6" y="1165.73"/><use href="#a1" x="1396.5" y="1138.17"/><use href="#a1" x="1418.41" y="1122.49"/><use href="#a1" x="1440.32" y="1118.53"/><use href="#a1" x="1462.23" y="1109.15"/><use href="#a1" x="1484.14" y="1091.41"/><use href="#a1" x="1506.04" y="1059.75"/><use href="#a1" x="1527.95" y="1014.6"/><use href="#a1" x="1549.86" y="956.69"/><use href="#a1" x="1571.77" y="900.84"/><use href="#a1" x="1593.67" y="850.42"/><use href="#a1" x="1615.58" y="819.19"/><use href="#a1" x="1637.49" y="817.29"/><use href="#a1" x="1659.4" y="875.78"/><use href="#a1" x="1681.31" y="1005.22"/><use href="#a1" x="1703.21" y="1172.33"/><use href="#a1" x="1725.12" y="1330.5"/><use href="#a1" x="1747.03" y="1447.04"/><use href="#a1" x="1768.94" y="1522.68"/><use href="#a1" x="1790.84" y="1568.86"/><use href="#a1" x="1812.75" y="1595.98"/><use href="#a1" x="1834.66" y="1606.97"/><use href="#a1" x="1856.57" y="1619.43"/><use href="#a1" x="1878.48" y="1628.23"/><use href="#a1" x="1900.38" y="1635.56"/><use href="#a1" x="1922.29" y="1647.58"/><use href="#a1" x="1944.2" y="1649.19"/><use href="#a1" x="1966.11" y="1649.19"/><use href="#a1" x="1988.01" y="1645.23"/><use href="#a1" x="2009.92" y="1645.23"/><use href="#a1" x="2031.83" y="1647.58"/><use href="#a1" x="2053.74" y="1650.36"/><use href="#a1" x="2075.65" y="1653.15"/><use href="#a1" x="2097.55" y="1655.64"/><use href="#a1" x="2119.46" y="1657.55"/><use href="#a1" x="2141.37" y="1659.74"/><use href="#a1" x="2163.28" y="1661.21"/><use href="#a1" x="2185.18" y="1662.53"/><use href="#a1" x="2207.09" y="1663.7"/><use href="#a1" x="2229" y="1523.71"/>
</g>
<g clip-path="url(#clipA)">
<path d="M257.3 1299.86C257.3 1299.86 257.3 1299.86 260.95 1306.7C264.6 1313.55 271.91 1327.23 279.21 1343.69C286.51 1360.16 293.81 1379.41 301.12 1394.66C308.42 1409.9 315.72 1421.14 323.02 1433.77C330.33 1446.41 337.63 1460.43 344.93 1472.5C352.23 1484.57 359.54 1494.68 366.84 1476.55C374.14 1458.43 381.44 1412.05 388.75 1392.97C396.05 1373.89 403.35 1382.1 410.65 1390.85C417.96 1399.59 425.26 1408.88 432.56 1416.18C439.86 1423.49 447.17 1428.81 454.47 1438.2C461.77 1447.58 469.08 1461.02 476.38 1470.15C483.68 1479.29 490.98 1484.13 498.29 1486.38C505.59 1488.62 512.89 1488.28 520.19 1490.46C527.5 1492.63 534.8 1497.32 542.1 1500.96C549.4 1504.6 556.71 1507.19 564.01 1510.86C571.31 1514.52 578.61 1519.26 585.92 1522.76C593.22 1526.25 600.52 1528.5 607.82 1530.92C615.13 1533.33 622.43 1535.92 629.73 1538.17C637.03 1540.42 644.34 1542.32 651.64 1544.57C658.94 1546.82 666.25 1549.41 673.55 1551.93C680.85 1554.44 688.15 1556.89 695.46 1559.57C702.76 1562.26 710.06 1565.19 717.36 1568.37C724.67 1571.55 731.97 1574.97 739.27 1578.26C746.57 1581.56 753.88 1584.74 761.18 1587.18C768.48 1589.62 775.78 1591.34 783.09 1592.78C790.39 1594.22 797.69 1595.39 804.99 1596.29C812.3 1597.2 819.6 1597.83 826.9 1597.98C834.2 1598.13 841.51 1597.79 848.81 1599.13C856.11 1600.47 863.42 1603.5 870.72 1605.02C878.02 1606.53 885.32 1606.53 892.63 1606.53C899.93 1606.53 907.23 1606.53 914.53 1607.9C921.84 1609.27 929.14 1612 936.44 1613.03C943.74 1614.06 951.05 1613.37 958.35 1611.69C965.65 1610 972.95 1607.31 980.26 1605.63C987.56 1603.94 994.86 1603.26 1002.16 1599.23C1009.47 1595.2 1016.77 1587.82 1024.07 1575.36C1031.37 1562.9 1038.68 1545.35 1045.98 1535.24C1053.28 1525.12 1060.59 1522.44 1067.89 1520.12C1075.19 1517.8 1082.49 1515.84 1089.8 1513.5C1097.1 1511.15 1104.4 1508.41 1111.7 1504.68C1119.01 1500.94 1126.31 1496.2 1133.61 1491.8C1140.91 1487.4 1148.22 1483.35 1155.52 1478.29C1162.82 1473.23 1170.12 1467.17 1177.43 1461.11C1184.73 1455.05 1192.03 1449 1199.33 1442.5C1206.64 1436 1213.94 1429.06 1221.24 1422.19C1228.54 1415.33 1235.85 1408.54 1243.15 1400.42C1250.45 1392.31 1257.76 1382.88 1265.06 1372.47C1272.36 1362.07 1279.66 1350.68 1286.97 1340.81C1294.27 1330.94 1301.57 1322.59 1308.87 1313.84C1316.18 1305.09 1323.48 1295.95 1330.78 1285.99C1338.08 1276.02 1345.39 1265.22 1352.69 1255.1C1359.99 1244.99 1367.29 1235.56 1374.6 1227.47C1381.9 1219.39 1389.2 1212.64 1396.5 1207.1C1403.81 1201.55 1411.11 1197.2 1418.41 1194.42C1425.71 1191.63 1433.02 1190.41 1440.32 1188.77C1447.62 1187.14 1454.93 1185.08 1462.23 1181.69C1469.53 1178.29 1476.83 1173.55 1484.14 1167.25C1491.44 1160.94 1498.74 1153.08 1506.04 1144.18C1513.35 1135.29 1520.65 1125.37 1527.95 1114.38C1535.25 1103.38 1542.56 1091.31 1549.86 1079.49C1557.16 1067.66 1564.46 1056.08 1571.77 1045.89C1579.07 1035.71 1586.37 1026.91 1593.67 1021.71C1600.98 1016.5 1608.28 1014.89 1615.58 1015.77C1622.88 1016.65 1630.19 1020.02 1637.49 1031.02C1644.79 1042.01 1652.1 1060.63 1659.4 1086.82C1666.7 1113.01 1674 1146.77 1681.31 1183.71C1688.61 1220.66 1695.91 1260.77 1703.21 1300.57C1710.52 1340.37 1717.82 1379.85 1725.12 1414.08C1732.42 1448.31 1739.73 1477.29 1747.03 1499.52C1754.33 1521.75 1761.63 1537.24 1768.94 1552.93C1776.24 1568.61 1783.54 1584.49 1790.84 1597.17C1798.15 1609.85 1805.45 1619.33 1812.75 1625.76C1820.05 1632.19 1827.36 1635.56 1834.66 1638.39C1841.96 1641.22 1849.27 1643.52 1856.57 1646.38C1863.87 1649.24 1871.17 1652.66 1878.48 1655.35C1885.78 1658.03 1893.08 1659.99 1900.38 1661.09C1907.69 1662.19 1914.99 1662.43 1922.29 1663.04C1929.59 1663.65 1936.9 1664.63 1944.2 1664.7C1951.5 1664.78 1958.8 1663.95 1966.11 1663.53C1973.41 1663.12 1980.71 1663.12 1988.01 1663.53C1995.32 1663.95 2002.62 1664.78 2009.92 1665.8C2017.22 1666.83 2024.53 1668.05 2031.83 1670.49C2039.13 1672.94 2046.44 1676.6 2053.74 1678.56C2061.04 1680.51 2068.34 1680.76 2075.65 1680.88C2082.95 1681 2090.25 1681 2097.55 1680.63C2104.86 1680.27 2112.16 1679.53 2119.46 1678.07C2126.76 1676.6 2134.07 1674.4 2141.37 1672.82C2148.67 1671.23 2155.97 1670.25 2163.28 1669.39C2170.58 1668.54 2177.88 1667.81 2185.18 1667.07C2192.49 1666.34 2199.79 1665.61 2207.09 1641.05C2214.39 1616.5 2221.7 1568.12 2225.35 1543.94C2229 1519.75 2229 1519.75 2229 1519.75" fill="none" stroke="#ff0080" stroke-width="6.6" stroke-linejoin="round" stroke-linecap="round"/>
<use href="#a2" x="257.3" y="1299.86"/><use href="#a2" x="279.21" y="1340.91"/><use href="#a2" x="301.12" y="1398.67"/><use href="#a2" x="323.02" y="1432.38"/><use href="#a2" x="344.93" y="1474.45"/><use href="#a2" x="366.84" y="1504.8"/><use href="#a2" x="388.75" y="1365.68"/><use href="#a2" x="410.65" y="1390.31"/><use href="#a2" x="432.56" y="1418.16"/><use href="#a2" x="454.47" y="1434.14"/><use href="#a2" x="476.38" y="1474.45"/><use href="#a2" x="498.29" y="1488.97"/><use href="#a2" x="520.19" y="1487.94"/><use href="#a2" x="542.1" y="1502.01"/><use href="#a2" x="564.01" y="1509.78"/><use href="#a2" x="585.92" y="1524"/><use href="#a2" x="607.82" y="1530.74"/><use href="#a2" x="629.73" y="1538.51"/><use href="#a2" x="651.64" y="1544.23"/><use href="#a2" x="673.55" y="1552"/><use href="#a2" x="695.46" y="1559.33"/><use href="#a2" x="717.36" y="1568.12"/><use href="#a2" x="739.27" y="1578.39"/><use href="#a2" x="761.18" y="1587.91"/><use href="#a2" x="783.09" y="1593.05"/><use href="#a2" x="804.99" y="1596.56"/><use href="#a2" x="826.9" y="1598.47"/><use href="#a2" x="848.81" y="1597.44"/><use href="#a2" x="870.72" y="1606.53"/><use href="#a2" x="892.63" y="1606.53"/><use href="#a2" x="914.53" y="1606.53"/><use href="#a2" x="936.44" y="1614.74"/><use href="#a2" x="958.35" y="1612.69"/><use href="#a2" x="980.26" y="1604.63"/><use href="#a2" x="1002.16" y="1602.57"/><use href="#a2" x="1024.07" y="1580.44"/><use href="#a2" x="1045.98" y="1527.81"/><use href="#a2" x="1067.89" y="1519.75"/><use href="#a2" x="1089.8" y="1513.89"/><use href="#a2" x="1111.7" y="1505.68"/><use href="#a2" x="1133.61" y="1491.46"/><use href="#a2" x="1155.52" y="1479.29"/><use href="#a2" x="1177.43" y="1461.11"/><use href="#a2" x="1199.33" y="1442.94"/><use href="#a2" x="1221.24" y="1422.12"/><use href="#a2" x="1243.15" y="1401.74"/><use href="#a2" x="1265.06" y="1373.45"/><use href="#a2" x="1286.97" y="1339.3"/><use href="#a2" x="1308.87" y="1314.23"/><use href="#a2" x="1330.78" y="1286.82"/><use href="#a2" x="1352.69" y="1254.42"/><use href="#a2" x="1374.6" y="1226.13"/><use href="#a2" x="1396.5" y="1205.9"/><use href="#a2" x="1418.41" y="1192.85"/><use href="#a2" x="1440.32" y="1189.19"/><use href="#a2" x="1462.23" y="1183.03"/><use href="#a2" x="1484.14" y="1168.81"/><use href="#a2" x="1506.04" y="1145.21"/><use href="#a2" x="1527.95" y="1115.45"/><use href="#a2" x="1549.86" y="1079.24"/><use href="#a2" x="1571.77" y="1044.5"/><use href="#a2" x="1593.67" y="1018.12"/><use href="#a2" x="1615.58" y="1013.28"/><use href="#a2" x="1637.49" y="1023.39"/><use href="#a2" x="1659.4" y="1079.24"/><use href="#a2" x="1681.31" y="1180.54"/><use href="#a2" x="1703.21" y="1300.89"/><use href="#a2" x="1725.12" y="1419.34"/><use href="#a2" x="1747.03" y="1506.26"/><use href="#a2" x="1768.94" y="1552.73"/><use href="#a2" x="1790.84" y="1600.37"/><use href="#a2" x="1812.75" y="1628.81"/><use href="#a2" x="1834.66" y="1638.93"/><use href="#a2" x="1856.57" y="1645.82"/><use href="#a2" x="1878.48" y="1656.08"/><use href="#a2" x="1900.38" y="1661.94"/><use href="#a2" x="1922.29" y="1662.68"/><use href="#a2" x="1944.2" y="1665.61"/><use href="#a2" x="1966.11" y="1663.12"/><use href="#a2" x="1988.01" y="1663.12"/><use href="#a2" x="2009.92" y="1665.61"/><use href="#a2" x="2031.83" y="1669.27"/><use href="#a2" x="2053.74" y="1680.27"/><use href="#a2" x="2075.65" y="1681"/><use href="#a2" x="2097.55" y="1681"/><use href="#a2" x="2119.46" y="1678.8"/><use href="#a2" x="2141.37" y="1672.2"/><use href="#a2" x="2163.28" y="1669.27"/><use href="#a2" x="2185.18" y="1667.07"/><use href="#a2" x="2207.09" y="1664.87"/><use href="#a2" x="2229" y="1519.75"/>
</g>
<g clip-path="url(#clipA)">
<path d="M257.3 1305.73C257.3 1305.73 257.3 1305.73 260.95 1311.16C264.6 1316.6 271.91 1327.47 279.21 1339.37C286.51 1351.27 293.81 1364.19 301.12 1376.24C308.42 1388.28 315.72 1399.45 323.02 1408.68C330.33 1417.92 337.63 1425.22 344.93 1433.74C352.23 1442.25 359.54 1451.98 366.84 1456.72C374.14 1461.46 381.44 1461.21 388.75 1463.32C396.05 1465.44 403.35 1469.91 410.65 1474.38C417.96 1478.85 425.26 1483.32 432.56 1487.5C439.86 1491.68 447.17 1495.56 454.47 1499.47C461.77 1503.38 469.08 1507.31 476.38 1510.95C483.68 1514.59 490.98 1517.94 498.29 1521.29C505.59 1524.64 512.89 1527.98 520.19 1531.04C527.5 1534.09 534.8 1536.85 542.1 1539.64C549.4 1542.42 556.71 1545.23 564.01 1547.72C571.31 1550.22 578.61 1552.39 585.92 1554.32C593.22 1556.25 600.52 1557.94 607.82 1559.6C615.13 1561.26 622.43 1562.9 629.73 1564.26C637.03 1565.63 644.34 1566.73 651.64 1567.83C658.94 1568.93 666.25 1570.03 673.55 1571.03C680.85 1572.03 688.15 1572.94 695.46 1573.62C702.76 1574.31 710.06 1574.78 717.36 1575.2C724.67 1575.62 731.97 1575.99 739.27 1576.28C746.57 1576.58 753.88 1576.8 761.18 1576.95C768.48 1577.1 775.78 1577.18 783.09 1577.23C790.39 1577.28 797.69 1577.31 804.99 1577.29C812.3 1577.27 819.6 1577.2 826.9 1577.08C834.2 1576.96 841.51 1576.79 848.81 1576.6C856.11 1576.41 863.42 1576.19 870.72 1575.93C878.02 1575.66 885.32 1575.35 892.63 1574.94C899.93 1574.53 907.23 1574.02 914.53 1573.46C921.84 1572.9 929.14 1572.29 936.44 1571.59C943.74 1570.88 951.05 1570.08 958.35 1568.93C965.65 1567.79 972.95 1566.3 980.26 1564.52C987.56 1562.74 994.86 1560.67 1002.16 1558.78C1009.47 1556.89 1016.77 1555.18 1024.07 1552.37C1031.37 1549.56 1038.68 1545.65 1045.98 1541.74C1053.28 1537.83 1060.59 1533.92 1067.89 1530.38C1075.19 1526.84 1082.49 1523.66 1089.8 1520.24C1097.1 1516.82 1104.4 1513.15 1111.7 1509.37C1119.01 1505.58 1126.31 1501.67 1133.61 1497.52C1140.91 1493.36 1148.22 1488.97 1155.52 1484.32C1162.82 1479.68 1170.12 1474.8 1177.43 1469.66C1184.73 1464.53 1192.03 1459.16 1199.33 1453.44C1206.64 1447.72 1213.94 1441.67 1221.24 1436.27C1228.54 1430.87 1235.85 1426.13 1243.15 1420.58C1250.45 1415.04 1257.76 1408.68 1265.06 1401.94C1272.36 1395.2 1279.66 1388.06 1286.97 1380.81C1294.27 1373.55 1301.57 1366.17 1308.87 1358.55C1316.18 1350.93 1323.48 1343.06 1330.78 1335.63C1338.08 1328.2 1345.39 1321.22 1352.69 1314.5C1359.99 1307.78 1367.29 1301.33 1374.6 1295.81C1381.9 1290.29 1389.2 1285.69 1396.5 1281.83C1403.81 1277.97 1411.11 1274.85 1418.41 1272.28C1425.71 1269.71 1433.02 1267.71 1440.32 1265.56C1447.62 1263.41 1454.93 1261.11 1462.23 1258.43C1469.53 1255.74 1476.83 1252.66 1484.14 1248.97C1491.44 1245.28 1498.74 1240.98 1506.04 1236.12C1513.35 1231.26 1520.65 1225.84 1527.95 1220.24C1535.25 1214.65 1542.56 1208.88 1549.86 1203.77C1557.16 1198.67 1564.46 1194.22 1571.77 1191.17C1579.07 1188.11 1586.37 1186.45 1593.67 1186.99C1600.98 1187.53 1608.28 1190.26 1615.58 1195.12C1622.88 1199.99 1630.19 1206.97 1637.49 1217.75C1644.79 1228.52 1652.1 1243.08 1659.4 1262.14C1666.7 1281.2 1674 1304.75 1681.31 1329.67C1688.61 1354.59 1695.91 1380.88 1703.21 1406.09C1710.52 1431.31 1717.82 1455.45 1725.12 1476.63C1732.42 1497.81 1739.73 1516.04 1747.03 1530.87C1754.33 1545.7 1761.63 1557.13 1768.94 1566.51C1776.24 1575.89 1783.54 1583.22 1790.84 1589.62C1798.15 1596.03 1805.45 1601.5 1812.75 1605.87C1820.05 1610.25 1827.36 1613.52 1834.66 1616.57C1841.96 1619.63 1849.27 1622.46 1856.57 1624.86C1863.87 1627.25 1871.17 1629.2 1878.48 1631.16C1885.78 1633.11 1893.08 1635.07 1900.38 1637.32C1907.69 1639.56 1914.99 1642.1 1922.29 1643.64C1929.59 1645.18 1936.9 1645.72 1944.2 1645.99C1951.5 1646.26 1958.8 1646.26 1966.11 1645.6C1973.41 1644.94 1980.71 1643.62 1988.01 1642.96C1995.32 1642.3 2002.62 1642.3 2009.92 1642.69C2017.22 1643.08 2024.53 1643.86 2031.83 1644.72C2039.13 1645.57 2046.44 1646.5 2053.74 1647.43C2061.04 1648.36 2068.34 1649.29 2075.65 1650.17C2082.95 1651.05 2090.25 1651.88 2097.55 1652.61C2104.86 1653.34 2112.16 1653.98 2119.46 1654.66C2126.76 1655.35 2134.07 1656.08 2141.37 1656.69C2148.67 1657.3 2155.97 1657.79 2163.28 1658.25C2170.58 1658.72 2177.88 1659.16 2185.18 1659.57C2192.49 1659.99 2199.79 1660.38 2207.09 1637.24C2214.39 1614.11 2221.7 1567.44 2225.35 1544.11C2229 1520.78 2229 1520.78 2229 1520.78" fill="none" stroke="#800080" stroke-width="6.7" stroke-linejoin="round" stroke-linecap="round"/>
<use href="#a3" x="257.3" y="1305.73"/><use href="#a3" x="279.21" y="1338.34"/><use href="#a3" x="301.12" y="1377.12"/><use href="#a3" x="323.02" y="1410.61"/><use href="#a3" x="344.93" y="1432.53"/><use href="#a3" x="366.84" y="1461.7"/><use href="#a3" x="388.75" y="1460.97"/><use href="#a3" x="410.65" y="1474.38"/><use href="#a3" x="432.56" y="1487.79"/><use href="#a3" x="454.47" y="1499.45"/><use href="#a3" x="476.38" y="1511.25"/><use href="#a3" x="498.29" y="1521.29"/><use href="#a3" x="520.19" y="1531.33"/><use href="#a3" x="542.1" y="1539.61"/><use href="#a3" x="564.01" y="1548.04"/><use href="#a3" x="585.92" y="1554.57"/><use href="#a3" x="607.82" y="1559.62"/><use href="#a3" x="629.73" y="1564.53"/><use href="#a3" x="651.64" y="1567.83"/><use href="#a3" x="673.55" y="1571.13"/><use href="#a3" x="695.46" y="1573.84"/><use href="#a3" x="717.36" y="1575.25"/><use href="#a3" x="739.27" y="1576.36"/><use href="#a3" x="761.18" y="1577.03"/><use href="#a3" x="783.09" y="1577.26"/><use href="#a3" x="804.99" y="1577.34"/><use href="#a3" x="826.9" y="1577.13"/><use href="#a3" x="848.81" y="1576.63"/><use href="#a3" x="870.72" y="1575.98"/><use href="#a3" x="892.63" y="1575.04"/><use href="#a3" x="914.53" y="1573.51"/><use href="#a3" x="936.44" y="1571.69"/><use href="#a3" x="958.35" y="1569.28"/><use href="#a3" x="980.26" y="1564.82"/><use href="#a3" x="1002.16" y="1558.6"/><use href="#a3" x="1024.07" y="1553.47"/><use href="#a3" x="1045.98" y="1541.74"/><use href="#a3" x="1067.89" y="1530.01"/><use href="#a3" x="1089.8" y="1520.48"/><use href="#a3" x="1111.7" y="1509.49"/><use href="#a3" x="1133.61" y="1497.76"/><use href="#a3" x="1155.52" y="1484.57"/><use href="#a3" x="1177.43" y="1469.91"/><use href="#a3" x="1199.33" y="1453.78"/><use href="#a3" x="1221.24" y="1435.61"/><use href="#a3" x="1243.15" y="1421.39"/><use href="#a3" x="1265.06" y="1402.33"/><use href="#a3" x="1286.97" y="1380.93"/><use href="#a3" x="1308.87" y="1358.79"/><use href="#a3" x="1330.78" y="1335.19"/><use href="#a3" x="1352.69" y="1314.23"/><use href="#a3" x="1374.6" y="1294.88"/><use href="#a3" x="1396.5" y="1281.1"/><use href="#a3" x="1418.41" y="1271.72"/><use href="#a3" x="1440.32" y="1265.71"/><use href="#a3" x="1462.23" y="1258.82"/><use href="#a3" x="1484.14" y="1249.58"/><use href="#a3" x="1506.04" y="1236.68"/><use href="#a3" x="1527.95" y="1220.41"/><use href="#a3" x="1549.86" y="1203.11"/><use href="#a3" x="1571.77" y="1189.77"/><use href="#a3" x="1593.67" y="1184.79"/><use href="#a3" x="1615.58" y="1193"/><use href="#a3" x="1637.49" y="1213.96"/><use href="#a3" x="1659.4" y="1257.65"/><use href="#a3" x="1681.31" y="1328.3"/><use href="#a3" x="1703.21" y="1407.17"/><use href="#a3" x="1725.12" y="1479.58"/><use href="#a3" x="1747.03" y="1534.26"/><use href="#a3" x="1768.94" y="1568.56"/><use href="#a3" x="1790.84" y="1590.55"/><use href="#a3" x="1812.75" y="1606.97"/><use href="#a3" x="1834.66" y="1616.79"/><use href="#a3" x="1856.57" y="1625.3"/><use href="#a3" x="1878.48" y="1631.16"/><use href="#a3" x="1900.38" y="1637.02"/><use href="#a3" x="1922.29" y="1644.65"/><use href="#a3" x="1944.2" y="1646.26"/><use href="#a3" x="1966.11" y="1646.26"/><use href="#a3" x="1988.01" y="1642.3"/><use href="#a3" x="2009.92" y="1642.3"/><use href="#a3" x="2031.83" y="1644.65"/><use href="#a3" x="2053.74" y="1647.43"/><use href="#a3" x="2075.65" y="1650.22"/><use href="#a3" x="2097.55" y="1652.71"/><use href="#a3" x="2119.46" y="1654.61"/><use href="#a3" x="2141.37" y="1656.81"/><use href="#a3" x="2163.28" y="1658.28"/><use href="#a3" x="2185.18" y="1659.6"/><use href="#a3" x="2207.09" y="1660.77"/><use href="#a3" x="2229" y="1520.78"/>
</g>
<g clip-path="url(#clipA)">
<path d="M257.3 1292.53C257.3 1292.53 257.3 1292.53 260.95 1298.72C264.6 1304.9 271.91 1317.26 279.21 1329.91C286.51 1342.57 293.81 1355.52 301.12 1367.59C308.42 1379.66 315.72 1390.85 323.02 1400.11C330.33 1409.37 337.63 1416.7 344.93 1423.15C352.23 1429.6 359.54 1435.17 366.84 1439.93C374.14 1444.7 381.44 1448.65 388.75 1452.88C396.05 1457.11 403.35 1461.6 410.65 1466.1C417.96 1470.59 425.26 1475.09 432.56 1479.29C439.86 1483.49 447.17 1487.4 454.47 1491.34C461.77 1495.27 469.08 1499.23 476.38 1502.89C483.68 1506.56 490.98 1509.93 498.29 1513.3C505.59 1516.67 512.89 1520.04 520.19 1523.12C527.5 1526.2 534.8 1528.99 542.1 1531.79C549.4 1534.6 556.71 1537.44 564.01 1539.96C571.31 1542.47 578.61 1544.67 585.92 1546.62C593.22 1548.58 600.52 1550.29 607.82 1551.98C615.13 1553.66 622.43 1555.32 629.73 1556.72C637.03 1558.11 644.34 1559.23 651.64 1560.36C658.94 1561.48 666.25 1562.6 673.55 1563.63C680.85 1564.66 688.15 1565.58 695.46 1566.32C702.76 1567.05 710.06 1567.59 717.36 1568.08C724.67 1568.56 731.97 1569 739.27 1569.37C746.57 1569.74 753.88 1570.03 761.18 1570.25C768.48 1570.47 775.78 1570.62 783.09 1570.74C790.39 1570.86 797.69 1570.96 804.99 1571.01C812.3 1571.06 819.6 1571.06 826.9 1571.01C834.2 1570.96 841.51 1570.86 848.81 1570.74C856.11 1570.62 863.42 1570.47 870.72 1570.27C878.02 1570.08 885.32 1569.84 892.63 1569.49C899.93 1569.15 907.23 1568.71 914.53 1568.22C921.84 1567.73 929.14 1567.2 936.44 1566.56C943.74 1565.93 951.05 1565.19 958.35 1564.12C965.65 1563.04 972.95 1561.63 980.26 1559.92C987.56 1558.21 994.86 1556.2 1002.16 1553.51C1009.47 1550.83 1016.77 1547.46 1024.07 1544.08C1031.37 1540.71 1038.68 1537.34 1045.98 1533.97C1053.28 1530.6 1060.59 1527.23 1067.89 1524.2C1075.19 1521.17 1082.49 1518.48 1089.8 1515.45C1097.1 1512.42 1104.4 1509.05 1111.7 1505.68C1119.01 1502.31 1126.31 1498.93 1133.61 1495.22C1140.91 1491.51 1148.22 1487.45 1155.52 1483.42C1162.82 1479.39 1170.12 1475.38 1177.43 1471.01C1184.73 1466.64 1192.03 1461.9 1199.33 1457.38C1206.64 1452.86 1213.94 1448.56 1221.24 1444.08C1228.54 1439.61 1235.85 1434.97 1243.15 1430.26C1250.45 1425.54 1257.76 1420.75 1265.06 1415.89C1272.36 1411.03 1279.66 1406.09 1286.97 1400.94C1294.27 1395.78 1301.57 1390.41 1308.87 1385.03C1316.18 1379.66 1323.48 1374.28 1330.78 1368.88C1338.08 1363.48 1345.39 1358.06 1352.69 1352.98C1359.99 1347.9 1367.29 1343.16 1374.6 1339.1C1381.9 1335.05 1389.2 1331.67 1396.5 1328.86C1403.81 1326.05 1411.11 1323.81 1418.41 1321.8C1425.71 1319.8 1433.02 1318.04 1440.32 1316.14C1447.62 1314.23 1454.93 1312.18 1462.23 1310.17C1469.53 1308.17 1476.83 1306.22 1484.14 1304.09C1491.44 1301.96 1498.74 1299.67 1506.04 1297.15C1513.35 1294.64 1520.65 1291.9 1527.95 1289.33C1535.25 1286.77 1542.56 1284.37 1549.86 1282.49C1557.16 1280.61 1564.46 1279.24 1571.77 1278.9C1579.07 1278.56 1586.37 1279.24 1593.67 1281.93C1600.98 1284.62 1608.28 1289.31 1615.58 1295.71C1622.88 1302.11 1630.19 1310.22 1637.49 1320.22C1644.79 1330.21 1652.1 1342.08 1659.4 1356.89C1666.7 1371.69 1674 1389.43 1681.31 1408.07C1688.61 1426.71 1695.91 1446.26 1703.21 1464.46C1710.52 1482.66 1717.82 1499.52 1725.12 1514.69C1732.42 1529.86 1739.73 1543.35 1747.03 1554.81C1754.33 1566.27 1761.63 1575.7 1768.94 1583C1776.24 1590.31 1783.54 1595.49 1790.84 1600.08C1798.15 1604.67 1805.45 1608.68 1812.75 1612.05C1820.05 1615.42 1827.36 1618.16 1834.66 1620.53C1841.96 1622.9 1849.27 1624.9 1856.57 1626.71C1863.87 1628.52 1871.17 1630.13 1878.48 1631.7C1885.78 1633.26 1893.08 1634.77 1900.38 1636.19C1907.69 1637.61 1914.99 1638.93 1922.29 1639.86C1929.59 1640.79 1936.9 1641.32 1944.2 1641.59C1951.5 1641.86 1958.8 1641.86 1966.11 1641.2C1973.41 1640.54 1980.71 1639.22 1988.01 1638.56C1995.32 1637.9 2002.62 1637.9 2009.92 1638.29C2017.22 1638.68 2024.53 1639.47 2031.83 1640.32C2039.13 1641.18 2046.44 1642.1 2053.74 1643.03C2061.04 1643.96 2068.34 1644.89 2075.65 1645.77C2082.95 1646.65 2090.25 1647.48 2097.55 1648.21C2104.86 1648.95 2112.16 1649.58 2119.46 1650.26C2126.76 1650.95 2134.07 1651.68 2141.37 1652.29C2148.67 1652.9 2155.97 1653.39 2163.28 1653.86C2170.58 1654.32 2177.88 1654.76 2185.18 1655.18C2192.49 1655.59 2199.79 1655.98 2207.09 1632.84C2214.39 1609.71 2221.7 1563.04 2225.35 1539.71C2229 1516.38 2229 1516.38 2229 1516.38" fill="none" stroke="#00f" stroke-width="6.6" stroke-linejoin="round" stroke-linecap="round"/>
<use href="#a4" x="257.3" y="1292.53"/><use href="#a4" x="279.21" y="1329.62"/><use href="#a4" x="301.12" y="1368.47"/><use href="#a4" x="323.02" y="1402.04"/><use href="#a4" x="344.93" y="1424.03"/><use href="#a4" x="366.84" y="1440.74"/><use href="#a4" x="388.75" y="1452.61"/><use href="#a4" x="410.65" y="1466.1"/><use href="#a4" x="432.56" y="1479.58"/><use href="#a4" x="454.47" y="1491.31"/><use href="#a4" x="476.38" y="1503.19"/><use href="#a4" x="498.29" y="1513.3"/><use href="#a4" x="520.19" y="1523.41"/><use href="#a4" x="542.1" y="1531.77"/><use href="#a4" x="564.01" y="1540.27"/><use href="#a4" x="585.92" y="1546.87"/><use href="#a4" x="607.82" y="1552"/><use href="#a4" x="629.73" y="1556.98"/><use href="#a4" x="651.64" y="1560.36"/><use href="#a4" x="673.55" y="1563.73"/><use href="#a4" x="695.46" y="1566.51"/><use href="#a4" x="717.36" y="1568.12"/><use href="#a4" x="739.27" y="1569.44"/><use href="#a4" x="761.18" y="1570.32"/><use href="#a4" x="783.09" y="1570.76"/><use href="#a4" x="804.99" y="1571.06"/><use href="#a4" x="826.9" y="1571.06"/><use href="#a4" x="848.81" y="1570.76"/><use href="#a4" x="870.72" y="1570.32"/><use href="#a4" x="892.63" y="1569.59"/><use href="#a4" x="914.53" y="1568.27"/><use href="#a4" x="936.44" y="1566.66"/><use href="#a4" x="958.35" y="1564.46"/><use href="#a4" x="980.26" y="1560.21"/><use href="#a4" x="1002.16" y="1554.2"/><use href="#a4" x="1024.07" y="1544.08"/><use href="#a4" x="1045.98" y="1533.97"/><use href="#a4" x="1067.89" y="1523.85"/><use href="#a4" x="1089.8" y="1515.79"/><use href="#a4" x="1111.7" y="1505.68"/><use href="#a4" x="1133.61" y="1495.56"/><use href="#a4" x="1155.52" y="1483.4"/><use href="#a4" x="1177.43" y="1471.37"/><use href="#a4" x="1199.33" y="1457.16"/><use href="#a4" x="1221.24" y="1444.26"/><use href="#a4" x="1243.15" y="1430.33"/><use href="#a4" x="1265.06" y="1415.96"/><use href="#a4" x="1286.97" y="1401.16"/><use href="#a4" x="1308.87" y="1385.03"/><use href="#a4" x="1330.78" y="1368.91"/><use href="#a4" x="1352.69" y="1352.64"/><use href="#a4" x="1374.6" y="1338.42"/><use href="#a4" x="1396.5" y="1328.3"/><use href="#a4" x="1418.41" y="1321.56"/><use href="#a4" x="1440.32" y="1316.28"/><use href="#a4" x="1462.23" y="1310.12"/><use href="#a4" x="1484.14" y="1304.26"/><use href="#a4" x="1506.04" y="1297.37"/><use href="#a4" x="1527.95" y="1289.16"/><use href="#a4" x="1549.86" y="1281.98"/><use href="#a4" x="1571.77" y="1277.87"/><use href="#a4" x="1593.67" y="1279.93"/><use href="#a4" x="1615.58" y="1294"/><use href="#a4" x="1637.49" y="1318.33"/><use href="#a4" x="1659.4" y="1353.96"/><use href="#a4" x="1681.31" y="1407.17"/><use href="#a4" x="1703.21" y="1465.8"/><use href="#a4" x="1725.12" y="1516.38"/><use href="#a4" x="1747.03" y="1556.84"/><use href="#a4" x="1768.94" y="1585.13"/><use href="#a4" x="1790.84" y="1600.67"/><use href="#a4" x="1812.75" y="1612.69"/><use href="#a4" x="1834.66" y="1620.9"/><use href="#a4" x="1856.57" y="1626.91"/><use href="#a4" x="1878.48" y="1631.75"/><use href="#a4" x="1900.38" y="1636.29"/><use href="#a4" x="1922.29" y="1640.25"/><use href="#a4" x="1944.2" y="1641.86"/><use href="#a4" x="1966.11" y="1641.86"/><use href="#a4" x="1988.01" y="1637.9"/><use href="#a4" x="2009.92" y="1637.9"/><use href="#a4" x="2031.83" y="1640.25"/><use href="#a4" x="2053.74" y="1643.03"/><use href="#a4" x="2075.65" y="1645.82"/><use href="#a4" x="2097.55" y="1648.31"/><use href="#a4" x="2119.46" y="1650.22"/><use href="#a4" x="2141.37" y="1652.41"/><use href="#a4" x="2163.28" y="1653.88"/><use href="#a4" x="2185.18" y="1655.2"/><use href="#a4" x="2207.09" y="1656.37"/><use href="#a4" x="2229" y="1516.38"/>
</g>
<text transform="translate(477.58 1777.4) scale(1.0000 1.0400)" font-size="80.5" font-weight="bold" text-anchor="middle">400</text>
<text transform="translate(915.73 1777.4) scale(1.0000 1.0400)" font-size="80.5" font-weight="bold" text-anchor="middle">500</text>
<text transform="translate(1353.89 1777.4) scale(1.0000 1.0400)" font-size="80.5" font-weight="bold" text-anchor="middle">600</text>
<text transform="translate(1792.04 1777.4) scale(1.0000 1.0400)" font-size="80.5" font-weight="bold" text-anchor="middle">700</text>
<text transform="translate(2230.2 1777.4) scale(1.0000 1.0400)" font-size="80.5" font-weight="bold" text-anchor="middle">800</text>
<text transform="translate(225.4 1559.01) scale(1.0000 1.0120)" font-size="80.5" font-weight="bold" text-anchor="end">0.0</text>
<text transform="translate(225.4 1265.83) scale(1.0000 1.0120)" font-size="80.5" font-weight="bold" text-anchor="end">0.2</text>
<text transform="translate(225.4 972.65) scale(1.0000 1.0120)" font-size="80.5" font-weight="bold" text-anchor="end">0.4</text>
<text transform="translate(225.4 679.46) scale(1.0000 1.0120)" font-size="80.5" font-weight="bold" text-anchor="end">0.6</text>
<text transform="translate(225.4 386.28) scale(1.0000 1.0120)" font-size="80.5" font-weight="bold" text-anchor="end">0.8</text>
<text transform="translate(225.4 93.1) scale(1.0000 1.0120)" font-size="80.5" font-weight="bold" text-anchor="end">1.0</text>
<text transform="translate(923.8 1840.2) scale(1.0000 1.0600)" font-size="79.5" font-weight="bold" text-anchor="start">Wavelength (nm)</text>
<text transform="translate(94.7 1117.8) rotate(-90) scale(1.0000 0.9650)" font-size="82.8" font-weight="bold" text-anchor="start">Absorbance (a.u)</text>
<text transform="translate(307.2 170.6) scale(1.0000 1.0200)" font-size="80.8" font-weight="bold" text-anchor="start">a) PEDOT-PSS</text>
<text transform="translate(301.6 286.5) scale(1.0000 1.0200)" font-size="73.5" font-weight="bold" text-anchor="start">Irradiation time (min.)</text>
<text transform="translate(486.4 378.3) scale(1.0000 1.0400)" font-size="73.6" font-weight="bold" text-anchor="start">0</text>
<text transform="translate(486.4 471.7) scale(1.0000 1.0400)" font-size="73.6" font-weight="bold" text-anchor="start">60</text>
<text transform="translate(486 565) scale(1.0000 1.0400)" font-size="73.6" font-weight="bold" text-anchor="start">120</text>
<text transform="translate(486 658) scale(1.0000 1.0400)" font-size="73.6" font-weight="bold" text-anchor="start">180</text>
<text transform="translate(486.4 751.3) scale(1.0000 1.0400)" font-size="73.6" font-weight="bold" text-anchor="start">240</text>
<path d="M302.2 354.6H467.6" stroke="#000" stroke-width="6.4" stroke-linecap="round" fill="none"/>
<use href="#a0" x="385" y="354.6"/>
<path d="M302.1 446.5H467.7" stroke="#f0f" stroke-width="6.2" stroke-linecap="round" fill="none"/>
<use href="#a1" x="385" y="446.5"/>
<path d="M302.1 539.5H467.7" stroke="#ff0080" stroke-width="6.2" stroke-linecap="round" fill="none"/>
<use href="#a2" x="385" y="539.5"/>
<path d="M302.1 632.5H467.7" stroke="#800080" stroke-width="6.2" stroke-linecap="round" fill="none"/>
<use href="#a3" x="385" y="632.5"/>
<path d="M302.1 725.8H467.7" stroke="#00f" stroke-width="6.2" stroke-linecap="round" fill="none"/>
<use href="#a4" x="385" y="725.8"/>
<path d="M1836.2 325V1139.3" stroke="#000" stroke-width="11.5" fill="none"/>
<path d="M1821.2 1142.3H1851.2L1836.2 1200.7Z" fill="#000" stroke="#000" stroke-width="10" stroke-linejoin="round"/>
<path d="M259.6 3700v-15.4M478.69 3700v-31.4M697.78 3700v-15.4M916.87 3700v-31.4M1135.96 3700v-15.4M1355.04 3700v-31.4M1574.13 3700v-15.4M1793.22 3700v-31.4M2012.31 3700v-15.4M2231.4 3700v-31.4M259.6 3699.16h15.4M259.6 3552.6h31.4M259.6 3406.04h15.4M259.6 3259.48h31.4M259.6 3112.92h15.4M259.6 2966.36h31.4M259.6 2819.8h15.4M259.6 2673.24h31.4M259.6 2526.68h15.4M259.6 2380.12h31.4M259.6 2233.56h15.4M259.6 2087h31.4" fill="none" stroke="#000" stroke-width="9.2" shape-rendering="crispEdges"/>
<rect x="259.6" y="2087" width="1971.8" height="1613" fill="none" stroke="#000" stroke-width="9.2" shape-rendering="crispEdges"/>
<g clip-path="url(#clipB)" fill="none">
<path d="M1179.07 3479.09h1.4M1200.68 3455.19h2M1222.49 3428.48h2.2M1244.2 3396.99h2.6M1266.61 3354.72h1.6M1288.62 3303.88h1.4M1310.23 3242h2M1332.04 3173.51h2.2M1353.74 3102.57h2.6M1376.15 3039.35h1.6M1398.16 2995.73h1.4M1419.77 2975.76h2M1441.58 2972.45h2.2M1463.29 2967.67h2.6M1485.7 2946.35h1.6M1507.71 2901.38h1.4M1529.32 2831.3h2M1551.12 2745.17h2.2M1572.83 2651.8h2.6M1595.24 2574.24h1.6M1617.25 2512.37h1.4M1638.86 2497.67h2M1660.67 2567.51h2.2M1682.38 2750.07h2.6M1704.79 2989.23h1.6M1726.8 3217.25h1.4M1748.4 3389.89h2M1770.21 3500.4h2.2M1791.92 3564.61h2.6" stroke="#f00" stroke-width="1.5"/>
<path d="M1178.97 3472.12h1.6M1200.98 3450.29h1.4M1222.59 3426.21h2M1244.4 3396.68h2.2M1266.11 3362.95h2.6M1288.52 3319.28h1.6M1310.53 3268.33h1.4M1332.14 3211.65h2M1353.94 3158.04h2.2M1375.65 3106.53h2.6M1398.06 3070.7h1.6M1420.07 3055.31h1.4M1441.68 3047.61h2M1463.49 3042.99h2.2M1485.2 3025.49h2.6M1507.61 2987h1.6M1529.62 2930.18h1.4M1551.22 2855.72h2M1573.03 2778.59h2.2M1594.74 2708.47h2.6M1617.15 2658.22h1.6M1639.16 2647.87h1.4M1660.77 2709.17h2M1682.58 2867.33h2.2M1704.29 3073.08h2.6M1726.7 3269.59h1.6M1748.7 3416.55h1.4M1770.31 3512.99h2M1792.12 3566.04h2.2" stroke="#008080" stroke-width="1.5"/>
<path d="M1178.47 3492.51h2.6M1200.88 3467.6h1.6M1222.89 3438.28h1.4M1244.5 3410h2M1266.31 3384.94h2.2M1288.02 3346.54h2.6M1310.43 3310.19h1.6M1332.44 3266.95h1.4M1354.04 3219.03h2M1375.85 3184h2.2M1397.56 3156.45h2.6M1419.97 3140.77h1.6M1441.98 3136.81h1.4M1463.59 3127.43h2M1485.4 3109.7h2.2M1507.11 3078.04h2.6M1529.52 3032.9h1.6M1551.52 2975.01h1.4M1573.13 2919.17h2M1594.94 2868.75h2.2M1616.65 2837.53h2.6M1639.06 2835.63h1.6M1661.07 2894.11h1.4M1682.68 3023.52h2M1704.49 3190.6h2.2M1726.2 3348.74h2.6M1748.6 3465.25h1.6M1770.61 3540.88h1.4M1792.22 3587.04h2" stroke="#808000" stroke-width="1.5"/>
<path d="M1178.67 3496.72h2.2M1200.38 3473.55h2.6M1222.79 3446.29h1.6M1244.8 3419.98h1.4M1266.41 3396.67h2M1288.22 3360.96h2.2M1309.93 3327.16h2.6M1332.34 3286.95h1.6M1354.34 3242.38h1.4M1375.95 3209.8h2M1397.76 3184.18h2.2M1419.47 3169.59h2.6M1441.88 3165.91h1.6M1463.89 3157.19h1.4M1485.5 3140.7h2M1507.31 3111.26h2.2M1529.02 3069.28h2.6M1551.42 3015.44h1.6M1573.43 2963.51h1.4M1595.04 2916.62h2M1616.85 2887.59h2.2M1638.56 2885.82h2.6M1660.97 2940.2h1.6M1682.98 3060.55h1.4M1704.59 3215.94h2M1726.4 3363.01h2.2M1748.1 3471.36h2.6M1770.51 3541.7h1.6M1792.52 3584.63h1.4" stroke="#f0f" stroke-width="1.5"/>
<path d="M390.35 3383.91h1.4M411.96 3408.53h2M433.77 3436.38h2.2M455.48 3452.35h2.6M477.89 3492.66h1.6M499.9 3507.17h1.4M521.51 3506.14h2M543.32 3520.21h2.2M565.02 3527.98h2.6M587.43 3542.19h1.6M609.44 3548.94h1.4M631.05 3556.7h2M652.86 3562.42h2.2M674.57 3570.19h2.6M696.98 3577.52h1.6M718.99 3586.31h1.4M740.6 3596.57h2M762.4 3606.09h2.2M784.11 3611.22h2.6M806.52 3614.74h1.6M828.53 3616.65h1.4M850.14 3615.62h2M871.95 3624.71h2.2M893.66 3624.71h2.6M916.07 3624.71h1.6M938.08 3632.91h1.4M959.68 3630.86h2M981.49 3622.8h2.2M1003.2 3620.75h2.6M1025.61 3598.62h1.6M1047.62 3546h1.4M1069.23 3537.94h2M1091.04 3532.08h2.2M1112.75 3523.87h2.6M1135.16 3509.66h1.6M1157.16 3497.49h1.4M1178.77 3479.32h2M1200.58 3461.15h2.2M1222.29 3440.34h2.6M1244.7 3419.96h1.6M1266.71 3391.68h1.4M1288.32 3357.53h2M1310.13 3332.47h2.2M1331.84 3305.06h2.6M1354.24 3272.67h1.6M1376.25 3244.38h1.4M1397.86 3224.16h2M1419.67 3211.12h2.2M1441.38 3207.45h2.6M1463.79 3201.3h1.6M1485.8 3187.08h1.4M1507.41 3163.48h2M1529.22 3133.73h2.2M1550.92 3097.53h2.6M1573.33 3062.8h1.6M1595.34 3036.42h1.4M1616.95 3031.58h2M1638.76 3041.69h2.2M1660.47 3097.53h2.6M1682.88 3198.8h1.6M1704.89 3319.13h1.4M1726.5 3437.55h2M1748.3 3524.46h2.2M1770.01 3570.92h2.6M1792.42 3618.55h1.6" stroke="#ff0080" stroke-width="1.5"/>
<path d="M390.25 3397.4h1.6M412.26 3420.06h1.4M433.87 3445.68h2M455.68 3460.37h2.2M477.39 3497.45h2.6M499.8 3510.8h1.6M521.81 3509.86h1.4M543.42 3522.8h2M565.22 3529.95h2.2M586.93 3543.03h2.6M609.34 3549.23h1.6M631.35 3556.38h1.4M652.96 3561.63h2M674.77 3568.78h2.2M696.48 3575.52h2.6M718.89 3583.61h1.6M740.9 3593.05h1.4M762.5 3601.81h2M784.31 3606.53h2.2M806.02 3609.77h2.6M828.43 3611.52h1.6M850.44 3610.58h1.4M872.05 3618.94h2M893.86 3618.94h2.2M915.57 3618.94h2.6M937.98 3626.49h1.6M959.98 3624.6h1.4M981.59 3617.19h2M1003.4 3615.3h2.2M1025.11 3594.94h2.6M1047.52 3546.53h1.6M1069.53 3539.12h1.4M1091.14 3533.72h2M1112.95 3526.17h2.2M1134.66 3513.09h2.6M1157.06 3501.9h1.6M1179.07 3485.18h1.4M1200.68 3468.46h2M1222.49 3449.32h2.2M1244.2 3430.57h2.6M1266.61 3404.55h1.6M1288.62 3373.13h1.4M1310.23 3350.08h2M1332.04 3324.86h2.2M1353.74 3295.06h2.6M1376.15 3269.04h1.6M1398.16 3250.43h1.4M1419.77 3238.43h2M1441.58 3235.06h2.2M1463.29 3229.4h2.6M1485.7 3216.32h1.6M1507.71 3194.61h1.4M1529.32 3167.24h2M1551.12 3133.94h2.2M1572.83 3101.98h2.6M1595.24 3077.71h1.6M1617.25 3073.26h1.4M1638.86 3082.56h2M1660.67 3133.94h2.2M1682.38 3227.11h2.6M1704.79 3337.81h1.6M1726.8 3446.75h1.4M1748.4 3526.71h2M1770.21 3569.45h2.2M1791.92 3613.28h2.6" stroke="#800000" stroke-width="1.5"/>
<path d="M1178.97 3482.84h1.6M1200.98 3465.48h1.4M1222.59 3445.73h2M1244.4 3427.82h2.2M1266.11 3403.23h2.6M1288.52 3374.18h1.6M1310.53 3350.29h1.4M1332.14 3324.41h2M1353.94 3296.59h2.2M1375.65 3271.88h2.6M1398.06 3254.23h1.6M1420.07 3242.65h1.4M1441.68 3238.05h2M1463.49 3231.6h2.2M1485.2 3219.38h2.6M1507.61 3200.06h1.6M1529.62 3175.71h1.4M1551.22 3147.07h2M1573.03 3120.89h2.2M1594.74 3103.07h2.6M1617.15 3103.45h1.6M1639.16 3117.9h1.4M1660.77 3168.88h2M1682.58 3257.9h2.2M1704.29 3361.63h2.6M1726.7 3461.64h1.6M1748.7 3535.66h1.4M1770.31 3577.25h2M1792.12 3614.62h2.2" stroke="#008000" stroke-width="1.5"/>
<path d="M1178.47 3488.11h2.6M1200.88 3471.99h1.6M1222.89 3453.82h1.4M1244.5 3439.6h2M1266.31 3420.55h2.2M1288.02 3399.15h2.6M1310.43 3377.02h1.6M1332.44 3353.42h1.4M1354.04 3332.47h2M1375.85 3313.12h2.2M1397.56 3299.34h2.6M1419.97 3289.96h1.6M1441.98 3283.96h1.4M1463.59 3277.07h2M1485.4 3267.83h2.2M1507.11 3254.94h2.6M1529.52 3238.67h1.6M1551.52 3221.37h1.4M1573.13 3208.04h2M1594.94 3203.05h2.2M1616.65 3211.26h2.6M1639.06 3232.22h1.6M1661.07 3275.89h1.4M1682.68 3346.54h2M1704.49 3425.39h2.2M1726.2 3497.79h2.6M1748.6 3552.45h1.6M1770.61 3586.75h1.4M1792.22 3608.73h2" stroke="#ff8000" stroke-width="1.5"/>
<path d="M1178.67 3494.56h2.2M1200.38 3480.05h2.6M1222.79 3463.7h1.6M1244.8 3450.9h1.4M1266.41 3433.75h2M1288.22 3414.5h2.2M1309.93 3394.58h2.6M1332.34 3373.34h1.6M1354.34 3354.48h1.4M1375.95 3337.07h2M1397.76 3324.67h2.2M1419.47 3316.23h2.6M1441.88 3310.82h1.6M1463.89 3304.62h1.4M1485.5 3296.31h2M1507.31 3284.7h2.2M1529.02 3270.06h2.6M1551.42 3254.5h1.6M1573.43 3242.49h1.4M1595.04 3238.01h2M1616.85 3245.4h2.2M1638.56 3264.26h2.6M1660.97 3303.57h1.6M1682.98 3367.14h1.4M1704.59 3438.11h2M1726.4 3503.27h2.2M1748.1 3552.47h2.6M1770.51 3583.33h1.6M1792.52 3603.12h1.4" stroke="#ff00c0" stroke-width="1.5"/>
<path d="M1178.77 3489.58h2M1200.58 3475.36h2.2M1222.29 3462.47h2.6M1244.7 3448.54h1.6M1266.71 3434.18h1.4M1288.32 3419.38h2M1310.13 3403.26h2.2M1331.84 3387.13h2.6M1354.24 3370.87h1.6M1376.25 3356.65h1.4M1397.86 3346.54h2M1419.67 3339.79h2.2M1441.38 3334.52h2.6M1463.79 3328.36h1.6M1485.8 3322.5h1.4M1507.41 3315.61h2M1529.22 3307.41h2.2M1550.92 3300.22h2.6M1573.33 3296.12h1.6M1595.34 3298.17h1.4M1616.95 3312.24h2M1638.76 3336.57h2.2M1660.47 3372.18h2.6M1682.88 3425.39h1.6M1704.89 3484.01h1.4M1726.5 3534.57h2M1748.3 3575.02h2.2M1770.01 3603.31h2.6M1792.42 3618.85h1.6" stroke="#8000ff" stroke-width="1.5"/>
<path d="M1179.07 3494.62h1.4M1200.68 3481.54h2M1222.49 3469.68h2.2M1244.2 3456.87h2.6M1266.61 3443.65h1.6M1288.62 3430.03h1.4M1310.23 3415.2h2M1332.04 3400.37h2.2M1353.74 3385.4h2.6M1376.15 3372.33h1.6M1398.16 3363.02h1.4M1419.77 3356.82h2M1441.58 3351.97h2.2M1463.29 3346.3h2.6M1485.7 3340.91h1.6M1507.71 3334.57h1.4M1529.32 3327.02h2M1551.12 3320.41h2.2M1572.83 3316.64h2.6M1595.24 3318.53h1.6M1617.25 3331.47h1.4M1638.86 3353.85h2M1660.67 3386.62h2.2M1682.38 3435.56h2.6M1704.79 3489.5h1.6M1726.8 3536.02h1.4M1748.4 3573.23h2M1770.21 3599.25h2.2M1791.92 3613.55h2.6" stroke="#00f" stroke-width="1.5"/>
<path d="M1178.97 3478.95h1.6M1200.98 3455.8h1.4M1222.59 3430.59h2M1244.4 3403.99h2.2M1266.11 3372.62h2.6M1288.52 3335.18h1.6M1310.53 3289.3h1.4M1332.14 3240.43h2M1353.94 3192.21h2.2M1375.65 3148.02h2.6M1398.06 3116h1.6M1420.07 3101.56h1.4M1441.68 3094.53h2M1463.49 3089.1h2.2M1485.2 3070.86h2.6M1507.61 3036.05h1.6M1529.62 2986.15h1.4M1551.22 2922.9h2M1573.03 2857.25h2.2M1594.74 2800.97h2.6M1617.15 2762.5h1.6M1639.16 2759.56h1.4M1660.77 2821.93h2M1682.58 2963.36h2.2M1704.29 3145.24h2.6M1726.7 3317.22h1.6M1748.7 3447h1.4M1770.31 3530.32h2M1792.12 3576.86h2.2" stroke="#f0f" stroke-width="1.5"/>
</g>
<g clip-path="url(#clipB)">
<path d="M259.6 3353.28C259.6 3353.28 259.6 3353.28 263.25 3359.39C266.9 3365.49 274.21 3377.71 281.51 3390.36C288.81 3403.01 296.11 3416.1 303.42 3427.61C310.72 3439.11 318.02 3449.03 325.33 3458.02C332.63 3467.01 339.93 3475.07 347.24 3484.03C354.54 3493 361.84 3502.87 369.14 3506.73C376.45 3510.59 383.75 3508.44 391.05 3510C398.36 3511.56 405.66 3516.84 412.96 3521.31C420.27 3525.78 427.57 3529.44 434.87 3533.35C442.17 3537.26 449.48 3541.41 456.78 3545.66C464.08 3549.91 471.39 3554.26 478.69 3558.58C485.99 3562.91 493.29 3567.21 500.6 3571.29C507.9 3575.37 515.2 3579.23 522.51 3582.33C529.81 3585.43 537.11 3587.77 544.42 3590.34C551.72 3592.9 559.02 3595.69 566.32 3597.89C573.63 3600.09 580.93 3601.7 588.23 3603.16C595.54 3604.63 602.84 3605.95 610.14 3607.17C617.45 3608.39 624.75 3609.51 632.05 3610.49C639.35 3611.47 646.66 3612.3 653.96 3613.1C661.26 3613.91 668.57 3614.69 675.87 3615.3C683.17 3615.91 690.47 3616.35 697.78 3616.67C705.08 3616.99 712.38 3617.18 719.69 3617.33C726.99 3617.48 734.29 3617.57 741.6 3617.43C748.9 3617.28 756.2 3616.89 763.5 3616.48C770.81 3616.06 778.11 3615.62 785.41 3615.25C792.72 3614.89 800.02 3614.59 807.32 3614.38C814.63 3614.16 821.93 3614.01 829.23 3613.89C836.53 3613.76 843.84 3613.67 851.14 3613.59C858.44 3613.52 865.75 3613.47 873.05 3613.42C880.35 3613.37 887.65 3613.32 894.96 3613.25C902.26 3613.18 909.56 3613.08 916.87 3612.93C924.17 3612.79 931.47 3612.59 938.78 3612.35C946.08 3612.1 953.38 3611.81 960.68 3611.42C967.99 3611.03 975.29 3610.54 982.59 3609.81C989.9 3609.07 997.2 3608.1 1004.5 3606.09C1011.81 3604.09 1019.11 3601.06 1026.41 3596.52C1033.71 3591.98 1041.02 3585.92 1048.32 3581.15C1055.62 3576.39 1062.93 3572.92 1070.23 3569.36C1077.53 3565.79 1084.83 3562.13 1092.14 3557.9C1099.44 3553.67 1106.74 3548.89 1114.05 3542.29C1121.35 3535.7 1128.65 3527.29 1135.96 3518.21C1143.26 3509.12 1150.56 3499.35 1157.86 3490.31C1165.17 3481.27 1172.47 3472.97 1179.77 3464.05C1187.08 3455.14 1194.38 3445.61 1201.68 3435.52C1208.99 3425.43 1216.29 3414.78 1223.59 3403.18C1230.89 3391.58 1238.2 3379.02 1245.5 3364.32C1252.8 3349.61 1260.11 3332.76 1267.41 3314.2C1274.71 3295.63 1282.01 3275.36 1289.32 3252.88C1296.62 3230.41 1303.92 3205.74 1311.23 3179.75C1318.53 3153.76 1325.83 3126.45 1333.14 3098.65C1340.44 3070.86 1347.74 3042.57 1355.04 3015.82C1362.35 2989.08 1369.65 2963.87 1376.95 2942.57C1384.26 2921.27 1391.56 2903.88 1398.86 2891.2C1406.17 2878.52 1413.47 2870.56 1420.77 2865.92C1428.07 2861.28 1435.38 2859.96 1442.68 2858.35C1449.98 2856.73 1457.29 2854.83 1464.59 2849.62C1471.89 2844.42 1479.19 2835.92 1486.5 2822.71C1493.8 2809.49 1501.1 2791.56 1508.41 2768.63C1515.71 2745.69 1523.01 2717.75 1530.32 2686.6C1537.62 2655.46 1544.92 2621.11 1552.22 2585.33C1559.53 2549.54 1566.83 2512.32 1574.13 2478.24C1581.44 2444.17 1588.74 2413.24 1596.04 2385.45C1603.35 2357.65 1610.65 2332.98 1617.95 2317.71C1625.25 2302.44 1632.56 2296.58 1639.86 2307.57C1647.16 2318.56 1654.47 2346.41 1661.77 2396.73C1669.07 2447.05 1676.37 2519.84 1683.68 2603.92C1690.98 2687.99 1698.28 2783.36 1705.59 2876.49C1712.89 2969.63 1720.19 3060.55 1727.5 3140.42C1734.8 3220.3 1742.1 3289.13 1749.4 3345.58C1756.71 3402.03 1764.01 3446.1 1771.31 3480.93C1778.62 3515.76 1785.92 3541.36 1793.22 3561.47C1800.53 3581.57 1807.83 3596.18 1815.13 3607.46C1822.43 3618.75 1829.74 3626.71 1837.04 3633.38C1844.34 3640.05 1851.65 3645.42 1858.95 3650.06C1866.25 3654.7 1873.55 3658.61 1880.86 3662.28C1888.16 3665.94 1895.46 3669.36 1902.77 3672.53C1910.07 3675.71 1917.37 3678.64 1924.68 3681.08C1931.98 3683.53 1939.28 3685.48 1946.58 3687.07C1953.89 3688.66 1961.19 3689.88 1968.49 3690.73C1975.8 3691.59 1983.1 3692.08 1990.4 3692.44C1997.71 3692.81 2005.01 3693.05 2012.31 3693.3C2019.61 3693.54 2026.92 3693.79 2034.22 3694.03C2041.52 3694.27 2048.83 3694.52 2056.13 3694.76C2063.43 3695.01 2070.73 3695.25 2078.04 3695.5C2085.34 3695.74 2092.64 3695.98 2099.95 3696.11C2107.25 3696.23 2114.55 3696.23 2121.86 3696.11C2129.16 3695.98 2136.46 3695.74 2143.76 3695.5C2151.07 3695.25 2158.37 3695.01 2165.67 3694.89C2172.98 3694.76 2180.28 3694.76 2187.58 3694.76C2194.89 3694.76 2202.19 3694.76 2209.49 3669.12C2216.79 3643.47 2224.1 3592.17 2227.75 3566.52C2231.4 3540.88 2231.4 3540.88 2231.4 3540.88" fill="none" stroke="#000" stroke-width="8.3" stroke-linejoin="round" stroke-linecap="round"/>
<use href="#b0" x="259.6" y="3353.28"/><use href="#b0" x="281.51" y="3389.92"/><use href="#b0" x="303.42" y="3429.2"/><use href="#b0" x="325.33" y="3458.95"/><use href="#b0" x="347.24" y="3483.13"/><use href="#b0" x="369.14" y="3512.74"/><use href="#b0" x="391.05" y="3506.29"/><use href="#b0" x="412.96" y="3522.12"/><use href="#b0" x="434.87" y="3533.11"/><use href="#b0" x="456.78" y="3545.57"/><use href="#b0" x="478.69" y="3558.61"/><use href="#b0" x="500.6" y="3571.51"/><use href="#b0" x="522.51" y="3583.08"/><use href="#b0" x="544.42" y="3590.12"/><use href="#b0" x="566.32" y="3598.47"/><use href="#b0" x="588.23" y="3603.31"/><use href="#b0" x="610.14" y="3607.27"/><use href="#b0" x="632.05" y="3610.64"/><use href="#b0" x="653.96" y="3613.13"/><use href="#b0" x="675.87" y="3615.47"/><use href="#b0" x="697.78" y="3616.79"/><use href="#b0" x="719.69" y="3617.38"/><use href="#b0" x="741.6" y="3617.67"/><use href="#b0" x="763.5" y="3616.5"/><use href="#b0" x="785.41" y="3615.18"/><use href="#b0" x="807.32" y="3614.3"/><use href="#b0" x="829.23" y="3613.86"/><use href="#b0" x="851.14" y="3613.57"/><use href="#b0" x="873.05" y="3613.42"/><use href="#b0" x="894.96" y="3613.28"/><use href="#b0" x="916.87" y="3612.98"/><use href="#b0" x="938.78" y="3612.4"/><use href="#b0" x="960.68" y="3611.52"/><use href="#b0" x="982.59" y="3610.05"/><use href="#b0" x="1004.5" y="3607.12"/><use href="#b0" x="1026.41" y="3598.03"/><use href="#b0" x="1048.32" y="3579.86"/><use href="#b0" x="1070.23" y="3569.45"/><use href="#b0" x="1092.14" y="3558.46"/><use href="#b0" x="1114.05" y="3544.1"/><use href="#b0" x="1135.96" y="3518.89"/><use href="#b0" x="1157.86" y="3489.58"/><use href="#b0" x="1179.77" y="3464.66"/><use href="#b0" x="1201.68" y="3436.08"/><use href="#b0" x="1223.59" y="3404.13"/><use href="#b0" x="1245.5" y="3366.47"/><use href="#b0" x="1267.41" y="3315.91"/><use href="#b0" x="1289.32" y="3255.08"/><use href="#b0" x="1311.23" y="3181.07"/><use href="#b0" x="1333.14" y="3099.14"/><use href="#b0" x="1355.04" y="3014.29"/><use href="#b0" x="1376.95" y="2938.66"/><use href="#b0" x="1398.86" y="2886.48"/><use href="#b0" x="1420.77" y="2862.6"/><use href="#b0" x="1442.68" y="2858.64"/><use href="#b0" x="1464.59" y="2852.92"/><use href="#b0" x="1486.5" y="2827.42"/><use href="#b0" x="1508.41" y="2773.63"/><use href="#b0" x="1530.32" y="2689.8"/><use href="#b0" x="1552.22" y="2586.77"/><use href="#b0" x="1574.13" y="2475.09"/><use href="#b0" x="1596.04" y="2382.32"/><use href="#b0" x="1617.95" y="2308.31"/><use href="#b0" x="1639.86" y="2290.72"/><use href="#b0" x="1661.77" y="2374.26"/><use href="#b0" x="1683.68" y="2592.63"/><use href="#b0" x="1705.59" y="2878.72"/><use href="#b0" x="1727.5" y="3151.47"/><use href="#b0" x="1749.4" y="3357.97"/><use href="#b0" x="1771.31" y="3490.17"/><use href="#b0" x="1793.22" y="3566.96"/><use href="#b0" x="1815.13" y="3610.78"/><use href="#b0" x="1837.04" y="3634.67"/><use href="#b0" x="1858.95" y="3650.8"/><use href="#b0" x="1880.86" y="3662.52"/><use href="#b0" x="1902.77" y="3672.78"/><use href="#b0" x="1924.68" y="3681.57"/><use href="#b0" x="1946.58" y="3687.44"/><use href="#b0" x="1968.49" y="3691.1"/><use href="#b0" x="1990.4" y="3692.56"/><use href="#b0" x="2012.31" y="3693.3"/><use href="#b0" x="2034.22" y="3694.03"/><use href="#b0" x="2056.13" y="3694.76"/><use href="#b0" x="2078.04" y="3695.5"/><use href="#b0" x="2099.95" y="3696.23"/><use href="#b0" x="2121.86" y="3696.23"/><use href="#b0" x="2143.76" y="3695.5"/><use href="#b0" x="2165.67" y="3694.76"/><use href="#b0" x="2187.58" y="3694.76"/><use href="#b0" x="2209.49" y="3694.76"/><use href="#b0" x="2231.4" y="3540.88"/>
</g>
<g clip-path="url(#clipB)">
<path d="M259.6 3335.69C259.6 3335.69 259.6 3335.69 263.25 3343.17C266.9 3350.64 274.21 3365.59 281.51 3378.14C288.81 3390.7 296.11 3400.86 303.42 3412.68C310.72 3424.51 318.02 3437.99 325.33 3449.23C332.63 3460.46 339.93 3469.45 347.24 3474.85C354.54 3480.25 361.84 3482.06 369.14 3484.47C376.45 3486.89 383.75 3489.92 391.05 3493.46C398.36 3497 405.66 3501.06 412.96 3505.52C420.27 3509.98 427.57 3514.85 434.87 3519.18C442.17 3523.52 449.48 3527.31 456.78 3531.2C464.08 3535.09 471.39 3539.08 478.69 3542.89C485.99 3546.69 493.29 3550.3 500.6 3554.04C507.9 3557.78 515.2 3561.64 522.51 3565.11C529.81 3568.58 537.11 3571.65 544.42 3574.51C551.72 3577.37 559.02 3580.01 566.32 3582.25C573.63 3584.48 580.93 3586.33 588.23 3587.99C595.54 3589.66 602.84 3591.16 610.14 3592.39C617.45 3593.62 624.75 3594.58 632.05 3595.71C639.35 3596.84 646.66 3598.15 653.96 3599.28C661.26 3600.41 668.57 3601.37 675.87 3602.16C683.17 3602.95 690.47 3603.57 697.78 3604.17C705.08 3604.78 712.38 3605.36 719.69 3605.83C726.99 3606.29 734.29 3606.63 741.6 3606.88C748.9 3607.12 756.2 3607.27 763.5 3607.39C770.81 3607.51 778.11 3607.61 785.41 3607.66C792.72 3607.71 800.02 3607.71 807.32 3607.68C814.63 3607.66 821.93 3607.61 829.23 3607.51C836.53 3607.41 843.84 3607.27 851.14 3607.07C858.44 3606.88 865.75 3606.63 873.05 3606.24C880.35 3605.85 887.65 3605.31 894.96 3604.73C902.26 3604.14 909.56 3603.51 916.87 3602.82C924.17 3602.14 931.47 3601.4 938.78 3600.53C946.08 3599.65 953.38 3598.62 960.68 3597.64C967.99 3596.67 975.29 3595.74 982.59 3594.74C989.9 3593.73 997.2 3592.66 1004.5 3592.46C1011.81 3592.27 1019.11 3592.95 1026.41 3590.36C1033.71 3587.77 1041.02 3581.91 1048.32 3577.27C1055.62 3572.63 1062.93 3569.21 1070.23 3565.3C1077.53 3561.39 1084.83 3557 1092.14 3552.11C1099.44 3547.23 1106.74 3541.85 1114.05 3535.75C1121.35 3529.64 1128.65 3522.8 1135.96 3515.13C1143.26 3507.46 1150.56 3498.96 1157.86 3491.02C1165.17 3483.08 1172.47 3475.7 1179.77 3468.21C1187.08 3460.71 1194.38 3453.09 1201.68 3445.07C1208.99 3437.06 1216.29 3428.66 1223.59 3419.3C1230.89 3409.95 1238.2 3399.64 1245.5 3388.6C1252.8 3377.56 1260.11 3365.78 1267.41 3352.28C1274.71 3338.77 1282.01 3323.53 1289.32 3307.01C1296.62 3290.5 1303.92 3272.72 1311.23 3253.94C1318.53 3235.15 1325.83 3215.37 1333.14 3196.12C1340.44 3176.87 1347.74 3158.16 1355.04 3139.81C1362.35 3121.47 1369.65 3103.49 1376.95 3088.25C1384.26 3073.01 1391.56 3060.5 1398.86 3051.56C1406.17 3042.62 1413.47 3037.25 1420.77 3033.22C1428.07 3029.19 1435.38 3026.5 1442.68 3024.35C1449.98 3022.2 1457.29 3020.59 1464.59 3016.73C1471.89 3012.87 1479.19 3006.76 1486.5 2996.99C1493.8 2987.22 1501.1 2973.79 1508.41 2957.15C1515.71 2940.52 1523.01 2920.68 1530.32 2897.77C1537.62 2874.86 1544.92 2848.87 1552.22 2822.41C1559.53 2795.96 1566.83 2769.04 1574.13 2743.34C1581.44 2717.65 1588.74 2693.17 1596.04 2672.17C1603.35 2651.16 1610.65 2633.62 1617.95 2623.04C1625.25 2612.47 1632.56 2608.85 1639.86 2617.74C1647.16 2626.63 1654.47 2648.03 1661.77 2686.33C1669.07 2724.63 1676.37 2779.84 1683.68 2843.35C1690.98 2906.86 1698.28 2978.67 1705.59 3048.87C1712.89 3119.08 1720.19 3187.67 1727.5 3247.61C1734.8 3307.55 1742.1 3358.85 1749.4 3401.33C1756.71 3443.8 1764.01 3477.46 1771.31 3503.55C1778.62 3529.64 1785.92 3548.15 1793.22 3563.57C1800.53 3578.98 1807.83 3591.29 1815.13 3600.82C1822.43 3610.34 1829.74 3617.09 1837.04 3622.48C1844.34 3627.88 1851.65 3631.94 1858.95 3635.7C1866.25 3639.46 1873.55 3642.93 1880.86 3647.82C1888.16 3652.7 1895.46 3659 1902.77 3663.16C1910.07 3667.32 1917.37 3669.34 1924.68 3671C1931.98 3672.65 1939.28 3673.94 1946.58 3675.05C1953.89 3676.17 1961.19 3677.11 1968.49 3676.9C1975.8 3676.69 1983.1 3675.32 1990.4 3674.64C1997.71 3673.95 2005.01 3673.95 2012.31 3674.29C2019.61 3674.64 2026.92 3675.32 2034.22 3676.2C2041.52 3677.08 2048.83 3678.15 2056.13 3679.08C2063.43 3680.01 2070.73 3680.79 2078.04 3681.48C2085.34 3682.16 2092.64 3682.75 2099.95 3683.28C2107.25 3683.82 2114.55 3684.31 2121.86 3684.77C2129.16 3685.24 2136.46 3685.68 2143.76 3686.12C2151.07 3686.56 2158.37 3687 2165.67 3687.46C2172.98 3687.92 2180.28 3688.41 2187.58 3688.88C2194.89 3689.34 2202.19 3689.78 2209.49 3665.52C2216.79 3641.27 2224.1 3592.32 2227.75 3567.84C2231.4 3543.37 2231.4 3543.37 2231.4 3543.37" fill="none" stroke="#f0f" stroke-width="8" stroke-linejoin="round" stroke-linecap="round"/>
<use href="#b1" x="259.6" y="3335.69"/><use href="#b1" x="281.51" y="3380.54"/><use href="#b1" x="303.42" y="3411.02"/><use href="#b1" x="325.33" y="3451.47"/><use href="#b1" x="347.24" y="3478.44"/><use href="#b1" x="369.14" y="3483.86"/><use href="#b1" x="391.05" y="3492.95"/><use href="#b1" x="412.96" y="3505.11"/><use href="#b1" x="434.87" y="3519.72"/><use href="#b1" x="456.78" y="3531.1"/><use href="#b1" x="478.69" y="3543.07"/><use href="#b1" x="500.6" y="3553.92"/><use href="#b1" x="522.51" y="3565.5"/><use href="#b1" x="544.42" y="3574.73"/><use href="#b1" x="566.32" y="3582.64"/><use href="#b1" x="588.23" y="3588.17"/><use href="#b1" x="610.14" y="3592.66"/><use href="#b1" x="632.05" y="3595.54"/><use href="#b1" x="653.96" y="3599.45"/><use href="#b1" x="675.87" y="3602.33"/><use href="#b1" x="697.78" y="3604.19"/><use href="#b1" x="719.69" y="3605.95"/><use href="#b1" x="741.6" y="3606.97"/><use href="#b1" x="763.5" y="3607.41"/><use href="#b1" x="785.41" y="3607.71"/><use href="#b1" x="807.32" y="3607.71"/><use href="#b1" x="829.23" y="3607.56"/><use href="#b1" x="851.14" y="3607.12"/><use href="#b1" x="873.05" y="3606.39"/><use href="#b1" x="894.96" y="3604.78"/><use href="#b1" x="916.87" y="3602.87"/><use href="#b1" x="938.78" y="3600.67"/><use href="#b1" x="960.68" y="3597.59"/><use href="#b1" x="982.59" y="3594.81"/><use href="#b1" x="1004.5" y="3591.58"/><use href="#b1" x="1026.41" y="3593.64"/><use href="#b1" x="1048.32" y="3576.05"/><use href="#b1" x="1070.23" y="3565.79"/><use href="#b1" x="1092.14" y="3552.6"/><use href="#b1" x="1114.05" y="3536.48"/><use href="#b1" x="1135.96" y="3515.96"/><use href="#b1" x="1157.86" y="3490.46"/><use href="#b1" x="1179.77" y="3468.33"/><use href="#b1" x="1201.68" y="3445.46"/><use href="#b1" x="1223.59" y="3420.26"/><use href="#b1" x="1245.5" y="3389.33"/><use href="#b1" x="1267.41" y="3354.01"/><use href="#b1" x="1289.32" y="3308.28"/><use href="#b1" x="1311.23" y="3254.94"/><use href="#b1" x="1333.14" y="3195.58"/><use href="#b1" x="1355.04" y="3139.45"/><use href="#b1" x="1376.95" y="3085.51"/><use href="#b1" x="1398.86" y="3047.99"/><use href="#b1" x="1420.77" y="3031.87"/><use href="#b1" x="1442.68" y="3023.81"/><use href="#b1" x="1464.59" y="3018.98"/><use href="#b1" x="1486.5" y="3000.66"/><use href="#b1" x="1508.41" y="2960.35"/><use href="#b1" x="1530.32" y="2900.85"/><use href="#b1" x="1552.22" y="2822.88"/><use href="#b1" x="1574.13" y="2742.12"/><use href="#b1" x="1596.04" y="2668.7"/><use href="#b1" x="1617.95" y="2616.08"/><use href="#b1" x="1639.86" y="2605.24"/><use href="#b1" x="1661.77" y="2669.43"/><use href="#b1" x="1683.68" y="2835.04"/><use href="#b1" x="1705.59" y="3050.49"/><use href="#b1" x="1727.5" y="3256.26"/><use href="#b1" x="1749.4" y="3410.14"/><use href="#b1" x="1771.31" y="3511.12"/><use href="#b1" x="1793.22" y="3566.67"/><use href="#b1" x="1815.13" y="3603.6"/><use href="#b1" x="1837.04" y="3623.83"/><use href="#b1" x="1858.95" y="3635.99"/><use href="#b1" x="1880.86" y="3646.4"/><use href="#b1" x="1902.77" y="3665.3"/><use href="#b1" x="1924.68" y="3671.36"/><use href="#b1" x="1946.58" y="3675.22"/><use href="#b1" x="1968.49" y="3678.06"/><use href="#b1" x="1990.4" y="3673.95"/><use href="#b1" x="2012.31" y="3673.95"/><use href="#b1" x="2034.22" y="3676"/><use href="#b1" x="2056.13" y="3679.23"/><use href="#b1" x="2078.04" y="3681.57"/><use href="#b1" x="2099.95" y="3683.33"/><use href="#b1" x="2121.86" y="3684.8"/><use href="#b1" x="2143.76" y="3686.12"/><use href="#b1" x="2165.67" y="3687.44"/><use href="#b1" x="2187.58" y="3688.9"/><use href="#b1" x="2209.49" y="3690.22"/><use href="#b1" x="2231.4" y="3543.37"/>
</g>
<g clip-path="url(#clipB)">
<path d="M259.6 3350.35C259.6 3350.35 259.6 3350.35 263.25 3356.6C266.9 3362.85 274.21 3375.36 281.51 3385.47C288.81 3395.59 296.11 3403.3 303.42 3413.66C310.72 3424.02 318.02 3437.01 325.33 3447.76C332.63 3458.51 339.93 3467.01 347.24 3474.36C354.54 3481.71 361.84 3487.92 369.14 3487.16C376.45 3486.4 383.75 3478.68 391.05 3477.59C398.36 3476.49 405.66 3482.01 412.96 3487.04C420.27 3492.07 427.57 3496.61 434.87 3501.6C442.17 3506.58 449.48 3512 456.78 3517.28C464.08 3522.56 471.39 3527.68 478.69 3532.18C485.99 3536.67 493.29 3540.53 500.6 3544.51C507.9 3548.5 515.2 3552.6 522.51 3556.31C529.81 3560.03 537.11 3563.35 544.42 3566.45C551.72 3569.55 559.02 3572.43 566.32 3574.9C573.63 3577.36 580.93 3579.4 588.23 3581.28C595.54 3583.15 602.84 3584.85 610.14 3586.28C617.45 3587.72 624.75 3588.88 632.05 3590.22C639.35 3591.55 646.66 3593.06 653.96 3594.39C661.26 3595.73 668.57 3596.89 675.87 3597.89C683.17 3598.88 690.47 3599.7 697.78 3600.42C705.08 3601.13 712.38 3601.73 719.69 3602.21C726.99 3602.7 734.29 3603.06 741.6 3603.32C748.9 3603.58 756.2 3603.74 763.5 3603.88C770.81 3604.02 778.11 3604.14 785.41 3604.2C792.72 3604.27 800.02 3604.29 807.32 3604.28C814.63 3604.27 821.93 3604.24 829.23 3604.16C836.53 3604.08 843.84 3603.95 851.14 3603.77C858.44 3603.6 865.75 3603.37 873.05 3603C880.35 3602.62 887.65 3602.1 894.96 3601.53C902.26 3600.96 909.56 3600.35 916.87 3599.68C924.17 3599.01 931.47 3598.3 938.78 3597.44C946.08 3596.57 953.38 3595.57 960.68 3594.61C967.99 3593.65 975.29 3592.74 982.59 3591.75C989.9 3590.77 997.2 3589.71 1004.5 3589.67C1011.81 3589.63 1019.11 3590.61 1026.41 3588.07C1033.71 3585.53 1041.02 3579.47 1048.32 3574.93C1055.62 3570.38 1062.93 3567.35 1070.23 3564.64C1077.53 3561.93 1084.83 3559.54 1092.14 3556.34C1099.44 3553.14 1106.74 3549.13 1114.05 3544.42C1121.35 3539.7 1128.65 3534.28 1135.96 3528.54C1143.26 3522.8 1150.56 3516.74 1157.86 3510.2C1165.17 3503.65 1172.47 3496.61 1179.77 3489.19C1187.08 3481.76 1194.38 3473.95 1201.68 3465.84C1208.99 3457.73 1216.29 3449.32 1223.59 3441.41C1230.89 3433.5 1238.2 3426.07 1245.5 3417.79C1252.8 3409.51 1260.11 3400.37 1267.41 3390.94C1274.71 3381.52 1282.01 3371.79 1289.32 3360.53C1296.62 3349.27 1303.92 3336.47 1311.23 3323.67C1318.53 3310.87 1325.83 3298.07 1333.14 3284.96C1340.44 3271.84 1347.74 3258.41 1355.04 3245.95C1362.35 3233.49 1369.65 3222.01 1376.95 3211.85C1384.26 3201.69 1391.56 3192.84 1398.86 3186.3C1406.17 3179.75 1413.47 3175.5 1420.77 3172.37C1428.07 3169.25 1435.38 3167.24 1442.68 3165.24C1449.98 3163.24 1457.29 3161.24 1464.59 3157.21C1471.89 3153.18 1479.19 3147.12 1486.5 3139.2C1493.8 3131.29 1501.1 3121.52 1508.41 3109.92C1515.71 3098.31 1523.01 3084.88 1530.32 3070.08C1537.62 3055.27 1544.92 3039.1 1552.22 3022.59C1559.53 3006.08 1566.83 2989.22 1574.13 2974.27C1581.44 2959.33 1588.74 2946.28 1596.04 2935.7C1603.35 2925.13 1610.65 2917.02 1617.95 2913.79C1625.25 2910.57 1632.56 2912.23 1639.86 2923.15C1647.16 2934.07 1654.47 2954.24 1661.77 2983.87C1669.07 3013.5 1676.37 3052.59 1683.68 3096.85C1690.98 3141.11 1698.28 3190.55 1705.59 3238.3C1712.89 3286.06 1720.19 3332.12 1727.5 3372.77C1734.8 3413.42 1742.1 3448.64 1749.4 3477.19C1756.71 3505.75 1764.01 3527.64 1771.31 3544.83C1778.62 3562.03 1785.92 3574.54 1793.22 3585.58C1800.53 3596.62 1807.83 3606.19 1815.13 3613.89C1822.43 3621.58 1829.74 3627.39 1837.04 3632.26C1844.34 3637.12 1851.65 3641.02 1858.95 3644.57C1866.25 3648.11 1873.55 3651.28 1880.86 3654.92C1888.16 3658.56 1895.46 3662.67 1902.77 3665.65C1910.07 3668.63 1917.37 3670.48 1924.68 3671.97C1931.98 3673.46 1939.28 3674.59 1946.58 3675.54C1953.89 3676.49 1961.19 3677.27 1968.49 3676.98C1975.8 3676.69 1983.1 3675.32 1990.4 3674.64C1997.71 3673.95 2005.01 3673.95 2012.31 3674.29C2019.61 3674.64 2026.92 3675.32 2034.22 3676.2C2041.52 3677.08 2048.83 3678.15 2056.13 3679.08C2063.43 3680.01 2070.73 3680.79 2078.04 3681.48C2085.34 3682.16 2092.64 3682.75 2099.95 3683.28C2107.25 3683.82 2114.55 3684.31 2121.86 3682.09C2129.16 3679.86 2136.46 3674.93 2143.76 3671.95C2151.07 3668.97 2158.37 3667.94 2165.67 3669.87C2172.98 3671.8 2180.28 3676.69 2187.58 3680.08C2194.89 3683.48 2202.19 3685.38 2209.49 3662.1C2216.79 3638.83 2224.1 3590.36 2227.75 3566.13C2231.4 3541.9 2231.4 3541.9 2231.4 3541.9" fill="none" stroke="#f00" stroke-width="8.8" stroke-linejoin="round" stroke-linecap="round"/>
<use href="#b2" x="259.6" y="3350.35"/><use href="#b2" x="281.51" y="3387.87"/><use href="#b2" x="303.42" y="3411.02"/><use href="#b2" x="325.33" y="3450.01"/><use href="#b2" x="347.24" y="3475.51"/><use href="#b2" x="369.14" y="3494.12"/><use href="#b2" x="391.05" y="3470.97"/><use href="#b2" x="412.96" y="3487.53"/><use href="#b2" x="434.87" y="3501.16"/><use href="#b2" x="456.78" y="3517.43"/><use href="#b2" x="478.69" y="3532.81"/><use href="#b2" x="500.6" y="3544.39"/><use href="#b2" x="522.51" y="3556.7"/><use href="#b2" x="544.42" y="3566.67"/><use href="#b2" x="566.32" y="3575.32"/><use href="#b2" x="588.23" y="3581.45"/><use href="#b2" x="610.14" y="3586.55"/><use href="#b2" x="632.05" y="3590.05"/><use href="#b2" x="653.96" y="3594.57"/><use href="#b2" x="675.87" y="3598.06"/><use href="#b2" x="697.78" y="3600.53"/><use href="#b2" x="719.69" y="3602.34"/><use href="#b2" x="741.6" y="3603.41"/><use href="#b2" x="763.5" y="3603.91"/><use href="#b2" x="785.41" y="3604.25"/><use href="#b2" x="807.32" y="3604.3"/><use href="#b2" x="829.23" y="3604.21"/><use href="#b2" x="851.14" y="3603.82"/><use href="#b2" x="873.05" y="3603.14"/><use href="#b2" x="894.96" y="3601.58"/><use href="#b2" x="916.87" y="3599.73"/><use href="#b2" x="938.78" y="3597.58"/><use href="#b2" x="960.68" y="3594.56"/><use href="#b2" x="982.59" y="3591.83"/><use href="#b2" x="1004.5" y="3588.65"/><use href="#b2" x="1026.41" y="3591.58"/><use href="#b2" x="1048.32" y="3573.41"/><use href="#b2" x="1070.23" y="3564.32"/><use href="#b2" x="1092.14" y="3557.14"/><use href="#b2" x="1114.05" y="3545.13"/><use href="#b2" x="1135.96" y="3528.86"/><use href="#b2" x="1157.86" y="3510.68"/><use href="#b2" x="1179.77" y="3489.58"/><use href="#b2" x="1201.68" y="3466.13"/><use href="#b2" x="1223.59" y="3440.92"/><use href="#b2" x="1245.5" y="3418.64"/><use href="#b2" x="1267.41" y="3391.24"/><use href="#b2" x="1289.32" y="3362.07"/><use href="#b2" x="1311.23" y="3323.67"/><use href="#b2" x="1333.14" y="3285.27"/><use href="#b2" x="1355.04" y="3244.97"/><use href="#b2" x="1376.95" y="3210.53"/><use href="#b2" x="1398.86" y="3184"/><use href="#b2" x="1420.77" y="3171.25"/><use href="#b2" x="1442.68" y="3165.24"/><use href="#b2" x="1464.59" y="3159.23"/><use href="#b2" x="1486.5" y="3141.06"/><use href="#b2" x="1508.41" y="3111.75"/><use href="#b2" x="1530.32" y="3071.44"/><use href="#b2" x="1552.22" y="3022.93"/><use href="#b2" x="1574.13" y="2972.37"/><use href="#b2" x="1596.04" y="2933.24"/><use href="#b2" x="1617.95" y="2908.91"/><use href="#b2" x="1639.86" y="2913.89"/><use href="#b2" x="1661.77" y="2974.42"/><use href="#b2" x="1683.68" y="3091.67"/><use href="#b2" x="1705.59" y="3239.99"/><use href="#b2" x="1727.5" y="3378.19"/><use href="#b2" x="1749.4" y="3483.86"/><use href="#b2" x="1771.31" y="3549.52"/><use href="#b2" x="1793.22" y="3587.04"/><use href="#b2" x="1815.13" y="3615.77"/><use href="#b2" x="1837.04" y="3633.21"/><use href="#b2" x="1858.95" y="3644.93"/><use href="#b2" x="1880.86" y="3654.46"/><use href="#b2" x="1902.77" y="3666.77"/><use href="#b2" x="1924.68" y="3672.34"/><use href="#b2" x="1946.58" y="3675.71"/><use href="#b2" x="1968.49" y="3678.06"/><use href="#b2" x="1990.4" y="3673.95"/><use href="#b2" x="2012.31" y="3673.95"/><use href="#b2" x="2034.22" y="3676"/><use href="#b2" x="2056.13" y="3679.23"/><use href="#b2" x="2078.04" y="3681.57"/><use href="#b2" x="2099.95" y="3683.33"/><use href="#b2" x="2121.86" y="3684.8"/><use href="#b2" x="2143.76" y="3669.99"/><use href="#b2" x="2165.67" y="3666.92"/><use href="#b2" x="2187.58" y="3681.57"/><use href="#b2" x="2209.49" y="3687.29"/><use href="#b2" x="2231.4" y="3541.9"/>
</g>
<g clip-path="url(#clipB)">
<path d="M259.6 3303.45C259.6 3303.45 259.6 3303.45 263.25 3312.02C266.9 3320.6 274.21 3337.74 281.51 3353.47C288.81 3369.2 296.11 3383.52 303.42 3394.12C310.72 3404.72 318.02 3411.61 325.33 3418.45C332.63 3425.29 339.93 3432.08 347.24 3439.8C354.54 3447.52 361.84 3456.16 369.14 3461.51C376.45 3466.86 383.75 3468.91 391.05 3472.46C398.36 3476 405.66 3481.03 412.96 3486.06C420.27 3491.09 427.57 3496.13 434.87 3500.62C442.17 3505.11 449.48 3509.07 456.78 3513.86C464.08 3518.65 471.39 3524.27 478.69 3529.25C485.99 3534.23 493.29 3538.58 500.6 3543.05C507.9 3547.52 515.2 3552.11 522.51 3555.7C529.81 3559.29 537.11 3561.88 544.42 3564.25C551.72 3566.62 559.02 3568.77 566.32 3570.85C573.63 3572.92 580.93 3574.93 588.23 3576.76C595.54 3578.59 602.84 3580.25 610.14 3581.64C617.45 3583.04 624.75 3584.16 632.05 3585.45C639.35 3586.75 646.66 3588.21 653.96 3589.51C661.26 3590.8 668.57 3591.93 675.87 3592.88C683.17 3593.83 690.47 3594.61 697.78 3595.28C705.08 3595.95 712.38 3596.5 719.69 3596.93C726.99 3597.37 734.29 3597.68 741.6 3597.89C748.9 3598.1 756.2 3598.21 763.5 3598.3C770.81 3598.39 778.11 3598.46 785.41 3598.47C792.72 3598.49 800.02 3598.46 807.32 3598.4C814.63 3598.34 821.93 3598.26 829.23 3598.13C836.53 3598 843.84 3597.82 851.14 3597.59C858.44 3597.37 865.75 3597.09 873.05 3596.67C880.35 3596.24 887.65 3595.67 894.96 3595.05C902.26 3594.43 909.56 3593.77 916.87 3593.05C924.17 3592.33 931.47 3591.57 938.78 3590.66C946.08 3589.74 953.38 3588.69 960.68 3587.68C967.99 3586.67 975.29 3585.71 982.59 3584.67C989.9 3583.64 997.2 3582.53 1004.5 3580.93C1011.81 3579.34 1019.11 3577.25 1026.41 3573.43C1033.71 3569.6 1041.02 3564.03 1048.32 3559.54C1055.62 3555.04 1062.93 3551.62 1070.23 3548.2C1077.53 3544.78 1084.83 3541.36 1092.14 3537.7C1099.44 3534.04 1106.74 3530.13 1114.05 3526.22C1121.35 3522.31 1128.65 3518.4 1135.96 3514.01C1143.26 3509.61 1150.56 3504.72 1157.86 3499.72C1165.17 3494.71 1172.47 3489.58 1179.77 3484.77C1187.08 3479.96 1194.38 3475.46 1201.68 3470.33C1208.99 3465.2 1216.29 3459.44 1223.59 3453.31C1230.89 3447.17 1238.2 3440.68 1245.5 3433.86C1252.8 3427.05 1260.11 3419.91 1267.41 3412.29C1274.71 3404.67 1282.01 3396.56 1289.32 3387.74C1296.62 3378.93 1303.92 3369.4 1311.23 3360.07C1318.53 3350.74 1325.83 3341.6 1333.14 3332.52C1340.44 3323.43 1347.74 3314.39 1355.04 3306.09C1362.35 3297.78 1369.65 3290.21 1376.95 3283.61C1384.26 3277.02 1391.56 3271.4 1398.86 3266.76C1406.17 3262.12 1413.47 3258.45 1420.77 3255.55C1428.07 3252.64 1435.38 3250.49 1442.68 3248.27C1449.98 3246.05 1457.29 3243.75 1464.59 3240.57C1471.89 3237.4 1479.19 3233.34 1486.5 3228.29C1493.8 3223.23 1501.1 3217.17 1508.41 3210.31C1515.71 3203.45 1523.01 3195.78 1530.32 3187.84C1537.62 3179.9 1544.92 3171.69 1552.22 3163.61C1559.53 3155.52 1566.83 3147.56 1574.13 3141.23C1581.44 3134.9 1588.74 3130.21 1596.04 3128.14C1603.35 3126.06 1610.65 3126.6 1617.95 3129.97C1625.25 3133.34 1632.56 3139.55 1639.86 3150.85C1647.16 3162.16 1654.47 3178.58 1661.77 3200.59C1669.07 3222.6 1676.37 3250.2 1683.68 3280.51C1690.98 3310.82 1698.28 3343.85 1705.59 3375.43C1712.89 3407.02 1720.19 3437.16 1727.5 3463.34C1734.8 3489.53 1742.1 3511.76 1749.4 3530.23C1756.71 3548.69 1764.01 3563.4 1771.31 3575.32C1778.62 3587.24 1785.92 3596.37 1793.22 3603.8C1800.53 3611.22 1807.83 3616.94 1815.13 3622C1822.43 3627.05 1829.74 3631.45 1837.04 3635.36C1844.34 3639.27 1851.65 3642.69 1858.95 3645.74C1866.25 3648.79 1873.55 3651.48 1880.86 3654.43C1888.16 3657.39 1895.46 3660.61 1902.77 3662.91C1910.07 3665.21 1917.37 3666.57 1924.68 3667.58C1931.98 3668.58 1939.28 3669.21 1946.58 3669.68C1953.89 3670.14 1961.19 3670.43 1968.49 3669.9C1975.8 3669.36 1983.1 3667.99 1990.4 3667.31C1997.71 3666.62 2005.01 3666.62 2012.31 3666.97C2019.61 3667.31 2026.92 3667.99 2034.22 3668.87C2041.52 3669.75 2048.83 3670.83 2056.13 3671.75C2063.43 3672.68 2070.73 3673.46 2078.04 3674.15C2085.34 3674.83 2092.64 3675.42 2099.95 3675.95C2107.25 3676.49 2114.55 3676.98 2121.86 3677.44C2129.16 3677.91 2136.46 3678.35 2143.76 3678.79C2151.07 3679.23 2158.37 3679.67 2165.67 3680.13C2172.98 3680.6 2180.28 3681.08 2187.58 3681.55C2194.89 3682.01 2202.19 3682.45 2209.49 3659.17C2216.79 3635.89 2224.1 3588.9 2227.75 3565.4C2231.4 3541.9 2231.4 3541.9 2231.4 3541.9" fill="none" stroke="#800000" stroke-width="12.5" stroke-linejoin="round" stroke-linecap="round"/>
<use href="#b3" x="259.6" y="3303.45"/><use href="#b3" x="281.51" y="3354.89"/><use href="#b3" x="303.42" y="3397.83"/><use href="#b3" x="325.33" y="3418.5"/><use href="#b3" x="347.24" y="3438.87"/><use href="#b3" x="369.14" y="3464.81"/><use href="#b3" x="391.05" y="3470.97"/><use href="#b3" x="412.96" y="3486.06"/><use href="#b3" x="434.87" y="3501.16"/><use href="#b3" x="456.78" y="3513.03"/><use href="#b3" x="478.69" y="3529.88"/><use href="#b3" x="500.6" y="3542.93"/><use href="#b3" x="522.51" y="3556.7"/><use href="#b3" x="544.42" y="3564.47"/><use href="#b3" x="566.32" y="3570.92"/><use href="#b3" x="588.23" y="3576.93"/><use href="#b3" x="610.14" y="3581.91"/><use href="#b3" x="632.05" y="3585.28"/><use href="#b3" x="653.96" y="3589.68"/><use href="#b3" x="675.87" y="3593.05"/><use href="#b3" x="697.78" y="3595.4"/><use href="#b3" x="719.69" y="3597.06"/><use href="#b3" x="741.6" y="3597.98"/><use href="#b3" x="763.5" y="3598.33"/><use href="#b3" x="785.41" y="3598.52"/><use href="#b3" x="807.32" y="3598.42"/><use href="#b3" x="829.23" y="3598.18"/><use href="#b3" x="851.14" y="3597.64"/><use href="#b3" x="873.05" y="3596.81"/><use href="#b3" x="894.96" y="3595.1"/><use href="#b3" x="916.87" y="3593.1"/><use href="#b3" x="938.78" y="3590.8"/><use href="#b3" x="960.68" y="3587.63"/><use href="#b3" x="982.59" y="3584.75"/><use href="#b3" x="1004.5" y="3581.42"/><use href="#b3" x="1026.41" y="3575.17"/><use href="#b3" x="1048.32" y="3558.46"/><use href="#b3" x="1070.23" y="3548.2"/><use href="#b3" x="1092.14" y="3537.94"/><use href="#b3" x="1114.05" y="3526.22"/><use href="#b3" x="1135.96" y="3514.49"/><use href="#b3" x="1157.86" y="3499.84"/><use href="#b3" x="1179.77" y="3484.45"/><use href="#b3" x="1201.68" y="3470.97"/><use href="#b3" x="1223.59" y="3453.67"/><use href="#b3" x="1245.5" y="3434.18"/><use href="#b3" x="1267.41" y="3412.78"/><use href="#b3" x="1289.32" y="3388.45"/><use href="#b3" x="1311.23" y="3359.87"/><use href="#b3" x="1333.14" y="3332.47"/><use href="#b3" x="1355.04" y="3305.35"/><use href="#b3" x="1376.95" y="3282.64"/><use href="#b3" x="1398.86" y="3265.78"/><use href="#b3" x="1420.77" y="3254.79"/><use href="#b3" x="1442.68" y="3248.34"/><use href="#b3" x="1464.59" y="3241.45"/><use href="#b3" x="1486.5" y="3229.29"/><use href="#b3" x="1508.41" y="3211.12"/><use href="#b3" x="1530.32" y="3188.11"/><use href="#b3" x="1552.22" y="3163.48"/><use href="#b3" x="1574.13" y="3139.59"/><use href="#b3" x="1596.04" y="3125.52"/><use href="#b3" x="1617.95" y="3127.14"/><use href="#b3" x="1639.86" y="3145.75"/><use href="#b3" x="1661.77" y="3194.99"/><use href="#b3" x="1683.68" y="3277.8"/><use href="#b3" x="1705.59" y="3376.87"/><use href="#b3" x="1727.5" y="3467.3"/><use href="#b3" x="1749.4" y="3533.99"/><use href="#b3" x="1771.31" y="3578.1"/><use href="#b3" x="1793.22" y="3605.51"/><use href="#b3" x="1815.13" y="3622.66"/><use href="#b3" x="1837.04" y="3635.85"/><use href="#b3" x="1858.95" y="3646.11"/><use href="#b3" x="1880.86" y="3654.17"/><use href="#b3" x="1902.77" y="3663.84"/><use href="#b3" x="1924.68" y="3667.94"/><use href="#b3" x="1946.58" y="3669.85"/><use href="#b3" x="1968.49" y="3670.73"/><use href="#b3" x="1990.4" y="3666.62"/><use href="#b3" x="2012.31" y="3666.62"/><use href="#b3" x="2034.22" y="3668.68"/><use href="#b3" x="2056.13" y="3671.9"/><use href="#b3" x="2078.04" y="3674.24"/><use href="#b3" x="2099.95" y="3676"/><use href="#b3" x="2121.86" y="3677.47"/><use href="#b3" x="2143.76" y="3678.79"/><use href="#b3" x="2165.67" y="3680.11"/><use href="#b3" x="2187.58" y="3681.57"/><use href="#b3" x="2209.49" y="3682.89"/><use href="#b3" x="2231.4" y="3541.9"/>
</g>
<g clip-path="url(#clipB)">
<path d="M259.6 3321.04C259.6 3321.04 259.6 3321.04 263.25 3327.65C266.9 3334.27 274.21 3347.51 281.51 3358.36C288.81 3369.2 296.11 3377.66 303.42 3387.77C310.72 3397.88 318.02 3409.66 325.33 3419.18C332.63 3428.71 339.93 3435.99 347.24 3443.95C354.54 3451.91 361.84 3460.56 369.14 3465.91C376.45 3471.26 383.75 3473.31 391.05 3476.85C398.36 3480.39 405.66 3485.43 412.96 3490.46C420.27 3495.49 427.57 3500.52 434.87 3505.02C442.17 3509.51 449.48 3513.47 456.78 3517.52C464.08 3521.58 471.39 3525.73 478.69 3529.37C485.99 3533.01 493.29 3536.14 500.6 3539.39C507.9 3542.63 515.2 3546 522.51 3548.98C529.81 3551.96 537.11 3554.55 544.42 3556.92C551.72 3559.29 559.02 3561.44 566.32 3563.52C573.63 3565.59 580.93 3567.6 588.23 3569.43C595.54 3571.26 602.84 3572.92 610.14 3574.32C617.45 3575.71 624.75 3576.83 632.05 3578.13C639.35 3579.42 646.66 3580.89 653.96 3582.18C661.26 3583.48 668.57 3584.6 675.87 3585.55C683.17 3586.5 690.47 3587.29 697.78 3587.97C705.08 3588.65 712.38 3589.24 719.69 3589.7C726.99 3590.17 734.29 3590.51 741.6 3590.75C748.9 3591 756.2 3591.15 763.5 3591.27C770.81 3591.39 778.11 3591.49 785.41 3591.54C792.72 3591.58 800.02 3591.58 807.32 3591.56C814.63 3591.54 821.93 3591.49 829.23 3591.39C836.53 3591.29 843.84 3591.15 851.14 3590.95C858.44 3590.75 865.75 3590.51 873.05 3590.12C880.35 3589.73 887.65 3589.19 894.96 3588.6C902.26 3588.02 909.56 3587.38 916.87 3586.7C924.17 3586.02 931.47 3585.28 938.78 3584.4C946.08 3583.52 953.38 3582.5 960.68 3581.52C967.99 3580.54 975.29 3579.62 982.59 3578.61C989.9 3577.61 997.2 3576.54 1004.5 3574.97C1011.81 3573.41 1019.11 3571.36 1026.41 3567.99C1033.71 3564.62 1041.02 3559.93 1048.32 3556.22C1055.62 3552.5 1062.93 3549.77 1070.23 3547.06C1077.53 3544.34 1084.83 3541.66 1092.14 3538.63C1099.44 3535.6 1106.74 3532.23 1114.05 3528.74C1121.35 3525.24 1128.65 3521.63 1135.96 3517.6C1143.26 3513.57 1150.56 3509.12 1157.86 3504.75C1165.17 3500.38 1172.47 3496.08 1179.77 3491.85C1187.08 3487.63 1194.38 3483.47 1201.68 3479.2C1208.99 3474.92 1216.29 3470.53 1223.59 3465.67C1230.89 3460.8 1238.2 3455.48 1245.5 3449.96C1252.8 3444.44 1260.11 3438.72 1267.41 3432.67C1274.71 3426.61 1282.01 3420.21 1289.32 3413.44C1296.62 3406.68 1303.92 3399.54 1311.23 3392.95C1318.53 3386.35 1325.83 3380.29 1333.14 3374.09C1340.44 3367.89 1347.74 3361.53 1355.04 3355.79C1362.35 3350.05 1369.65 3344.92 1376.95 3340.36C1384.26 3335.79 1391.56 3331.78 1398.86 3328.44C1406.17 3325.09 1413.47 3322.4 1420.77 3320.03C1428.07 3317.66 1435.38 3315.61 1442.68 3313.93C1449.98 3312.24 1457.29 3310.92 1464.59 3308.7C1471.89 3306.48 1479.19 3303.35 1486.5 3299.98C1493.8 3296.61 1501.1 3292.99 1508.41 3289.5C1515.71 3286.01 1523.01 3282.64 1530.32 3279.12C1537.62 3275.6 1544.92 3271.94 1552.22 3268.76C1559.53 3265.59 1566.83 3262.9 1574.13 3261.36C1581.44 3259.82 1588.74 3259.43 1596.04 3260.92C1603.35 3262.41 1610.65 3265.78 1617.95 3271.64C1625.25 3277.51 1632.56 3285.86 1639.86 3296.78C1647.16 3307.7 1654.47 3321.18 1661.77 3337.55C1669.07 3353.91 1676.37 3373.16 1683.68 3394.14C1690.98 3415.13 1698.28 3437.84 1705.59 3459.49C1712.89 3481.13 1720.19 3501.69 1727.5 3519.62C1734.8 3537.55 1742.1 3552.84 1749.4 3565.64C1756.71 3578.44 1764.01 3588.75 1771.31 3597.03C1778.62 3605.31 1785.92 3611.57 1793.22 3616.92C1800.53 3622.26 1807.83 3626.71 1815.13 3630.55C1822.43 3634.38 1829.74 3637.6 1837.04 3640.44C1844.34 3643.27 1851.65 3645.71 1858.95 3647.94C1866.25 3650.16 1873.55 3652.16 1880.86 3654.04C1888.16 3655.92 1895.46 3657.68 1902.77 3659.25C1910.07 3660.81 1917.37 3662.18 1924.68 3663.18C1931.98 3664.18 1939.28 3664.82 1946.58 3665.28C1953.89 3665.74 1961.19 3666.04 1968.49 3665.5C1975.8 3664.96 1983.1 3663.59 1990.4 3662.91C1997.71 3662.23 2005.01 3662.23 2012.31 3662.57C2019.61 3662.91 2026.92 3663.59 2034.22 3664.47C2041.52 3665.35 2048.83 3666.43 2056.13 3667.36C2063.43 3668.28 2070.73 3669.07 2078.04 3669.75C2085.34 3670.43 2092.64 3671.02 2099.95 3671.56C2107.25 3672.1 2114.55 3672.58 2121.86 3673.05C2129.16 3673.51 2136.46 3673.95 2143.76 3674.39C2151.07 3674.83 2158.37 3675.27 2165.67 3675.73C2172.98 3676.2 2180.28 3676.69 2187.58 3677.15C2194.89 3677.62 2202.19 3678.06 2209.49 3655.02C2216.79 3631.99 2224.1 3585.48 2227.75 3562.22C2231.4 3538.97 2231.4 3538.97 2231.4 3538.97" fill="none" stroke="#00f" stroke-width="12" stroke-linejoin="round" stroke-linecap="round"/>
<use href="#b4" x="259.6" y="3321.04"/><use href="#b4" x="281.51" y="3360.75"/><use href="#b4" x="303.42" y="3386.11"/><use href="#b4" x="325.33" y="3421.43"/><use href="#b4" x="347.24" y="3443.27"/><use href="#b4" x="369.14" y="3469.21"/><use href="#b4" x="391.05" y="3475.36"/><use href="#b4" x="412.96" y="3490.46"/><use href="#b4" x="434.87" y="3505.55"/><use href="#b4" x="456.78" y="3517.43"/><use href="#b4" x="478.69" y="3529.88"/><use href="#b4" x="500.6" y="3539.26"/><use href="#b4" x="522.51" y="3549.38"/><use href="#b4" x="544.42" y="3557.14"/><use href="#b4" x="566.32" y="3563.59"/><use href="#b4" x="588.23" y="3569.6"/><use href="#b4" x="610.14" y="3574.58"/><use href="#b4" x="632.05" y="3577.95"/><use href="#b4" x="653.96" y="3582.35"/><use href="#b4" x="675.87" y="3585.72"/><use href="#b4" x="697.78" y="3588.07"/><use href="#b4" x="719.69" y="3589.83"/><use href="#b4" x="741.6" y="3590.85"/><use href="#b4" x="763.5" y="3591.29"/><use href="#b4" x="785.41" y="3591.58"/><use href="#b4" x="807.32" y="3591.58"/><use href="#b4" x="829.23" y="3591.44"/><use href="#b4" x="851.14" y="3591"/><use href="#b4" x="873.05" y="3590.27"/><use href="#b4" x="894.96" y="3588.65"/><use href="#b4" x="916.87" y="3586.75"/><use href="#b4" x="938.78" y="3584.55"/><use href="#b4" x="960.68" y="3581.47"/><use href="#b4" x="982.59" y="3578.69"/><use href="#b4" x="1004.5" y="3575.46"/><use href="#b4" x="1026.41" y="3569.31"/><use href="#b4" x="1048.32" y="3555.24"/><use href="#b4" x="1070.23" y="3547.03"/><use href="#b4" x="1092.14" y="3538.97"/><use href="#b4" x="1114.05" y="3528.86"/><use href="#b4" x="1135.96" y="3518.01"/><use href="#b4" x="1157.86" y="3504.67"/><use href="#b4" x="1179.77" y="3491.78"/><use href="#b4" x="1201.68" y="3479.32"/><use href="#b4" x="1223.59" y="3466.13"/><use href="#b4" x="1245.5" y="3450.15"/><use href="#b4" x="1267.41" y="3433.01"/><use href="#b4" x="1289.32" y="3413.81"/><use href="#b4" x="1311.23" y="3392.41"/><use href="#b4" x="1333.14" y="3374.24"/><use href="#b4" x="1355.04" y="3355.18"/><use href="#b4" x="1376.95" y="3339.79"/><use href="#b4" x="1398.86" y="3327.78"/><use href="#b4" x="1420.77" y="3319.72"/><use href="#b4" x="1442.68" y="3313.56"/><use href="#b4" x="1464.59" y="3309.6"/><use href="#b4" x="1486.5" y="3300.22"/><use href="#b4" x="1508.41" y="3289.38"/><use href="#b4" x="1530.32" y="3279.27"/><use href="#b4" x="1552.22" y="3268.27"/><use href="#b4" x="1574.13" y="3260.21"/><use href="#b4" x="1596.04" y="3259.04"/><use href="#b4" x="1617.95" y="3269.15"/><use href="#b4" x="1639.86" y="3294.21"/><use href="#b4" x="1661.77" y="3334.67"/><use href="#b4" x="1683.68" y="3392.41"/><use href="#b4" x="1705.59" y="3460.56"/><use href="#b4" x="1727.5" y="3522.26"/><use href="#b4" x="1749.4" y="3568.14"/><use href="#b4" x="1771.31" y="3599.06"/><use href="#b4" x="1793.22" y="3617.82"/><use href="#b4" x="1815.13" y="3631.16"/><use href="#b4" x="1837.04" y="3640.83"/><use href="#b4" x="1858.95" y="3648.16"/><use href="#b4" x="1880.86" y="3654.17"/><use href="#b4" x="1902.77" y="3659.44"/><use href="#b4" x="1924.68" y="3663.55"/><use href="#b4" x="1946.58" y="3665.45"/><use href="#b4" x="1968.49" y="3666.33"/><use href="#b4" x="1990.4" y="3662.23"/><use href="#b4" x="2012.31" y="3662.23"/><use href="#b4" x="2034.22" y="3664.28"/><use href="#b4" x="2056.13" y="3667.5"/><use href="#b4" x="2078.04" y="3669.85"/><use href="#b4" x="2099.95" y="3671.61"/><use href="#b4" x="2121.86" y="3673.07"/><use href="#b4" x="2143.76" y="3674.39"/><use href="#b4" x="2165.67" y="3675.71"/><use href="#b4" x="2187.58" y="3677.18"/><use href="#b4" x="2209.49" y="3678.5"/><use href="#b4" x="2231.4" y="3538.97"/>
</g>
<text transform="translate(479.89 3797.4) scale(1.0000 1.0400)" font-size="80.5" font-weight="bold" text-anchor="middle">400</text>
<text transform="translate(918.07 3797.4) scale(1.0000 1.0400)" font-size="80.5" font-weight="bold" text-anchor="middle">500</text>
<text transform="translate(1356.24 3797.4) scale(1.0000 1.0400)" font-size="80.5" font-weight="bold" text-anchor="middle">600</text>
<text transform="translate(1794.42 3797.4) scale(1.0000 1.0400)" font-size="80.5" font-weight="bold" text-anchor="middle">700</text>
<text transform="translate(2232.6 3797.4) scale(1.0000 1.0400)" font-size="80.5" font-weight="bold" text-anchor="middle">800</text>
<text transform="translate(228 3577.2) scale(1.0000 1.0120)" font-size="80.5" font-weight="bold" text-anchor="end">0.0</text>
<text transform="translate(228 3284.08) scale(1.0000 1.0120)" font-size="80.5" font-weight="bold" text-anchor="end">0.2</text>
<text transform="translate(228 2990.96) scale(1.0000 1.0120)" font-size="80.5" font-weight="bold" text-anchor="end">0.4</text>
<text transform="translate(228 2697.84) scale(1.0000 1.0120)" font-size="80.5" font-weight="bold" text-anchor="end">0.6</text>
<text transform="translate(228 2404.72) scale(1.0000 1.0120)" font-size="80.5" font-weight="bold" text-anchor="end">0.8</text>
<text transform="translate(228 2111.6) scale(1.0000 1.0120)" font-size="80.5" font-weight="bold" text-anchor="end">1.0</text>
<text transform="translate(927.1 3860.2) scale(1.0000 1.0600)" font-size="79.5" font-weight="bold" text-anchor="start">Wavelength (nm)</text>
<text transform="translate(97.3 3136.8) rotate(-90) scale(1.0000 0.9650)" font-size="82.8" font-weight="bold" text-anchor="start">Absorbance (a.u)</text>
<text transform="translate(312.6 2184.9) scale(1.0000 1.0200)" font-size="80.7" font-weight="normal" text-anchor="start">b) PEDOT-PSS doped 3 wt.% BC</text>
<text transform="translate(307.5 2300.5) scale(1.0000 1.0200)" font-size="72.8" font-weight="normal" text-anchor="start">Irradiation time (min.)</text>
<text transform="translate(489.6 2394.3) scale(1.0000 1.0400)" font-size="73" font-weight="normal" text-anchor="start">0</text>
<text transform="translate(488.5 2486.9) scale(1.0000 1.0400)" font-size="73" font-weight="normal" text-anchor="start">60</text>
<text transform="translate(491.6 2578) scale(1.0000 1.0400)" font-size="73" font-weight="normal" text-anchor="start">120</text>
<text transform="translate(472.4 2670) scale(1.0000 1.0400)" font-size="73" font-weight="normal" text-anchor="start">180</text>
<text transform="translate(469.4 2760.3) scale(1.0000 1.0400)" font-size="73" font-weight="normal" text-anchor="start">240</text>
<path d="M303.65 2369.3H471.25" stroke="#000" stroke-width="6.5" stroke-linecap="round" fill="none"/>
<use href="#b0" x="386.3" y="2369.3"/>
<path d="M304.6 2461.3H470.3" stroke="#f0f" stroke-width="8.4" stroke-linecap="round" fill="none"/>
<use href="#b1" x="386.3" y="2461.3"/>
<path d="M304.9 2553.6H470" stroke="#f00" stroke-width="9" stroke-linecap="round" fill="none"/>
<use href="#b2" x="386.3" y="2553.6"/>
<path d="M304.75 2645H469.75" stroke="#800000" stroke-width="12.5" stroke-linecap="round" fill="none"/>
<use href="#b3" x="386.3" y="2645"/>
<path d="M304.75 2736.3H469.75" stroke="#00f" stroke-width="12.5" stroke-linecap="round" fill="none"/>
<use href="#b4" x="386.3" y="2736.3"/>
<path d="M1838.6 2344V3181.4" stroke="#000" stroke-width="3" fill="none"/>
<path d="M1828.6 3180H1848.6L1838.6 3219.2Z" fill="#000" stroke="#000" stroke-width="1.2" stroke-linejoin="round"/>
</svg></body></html>
